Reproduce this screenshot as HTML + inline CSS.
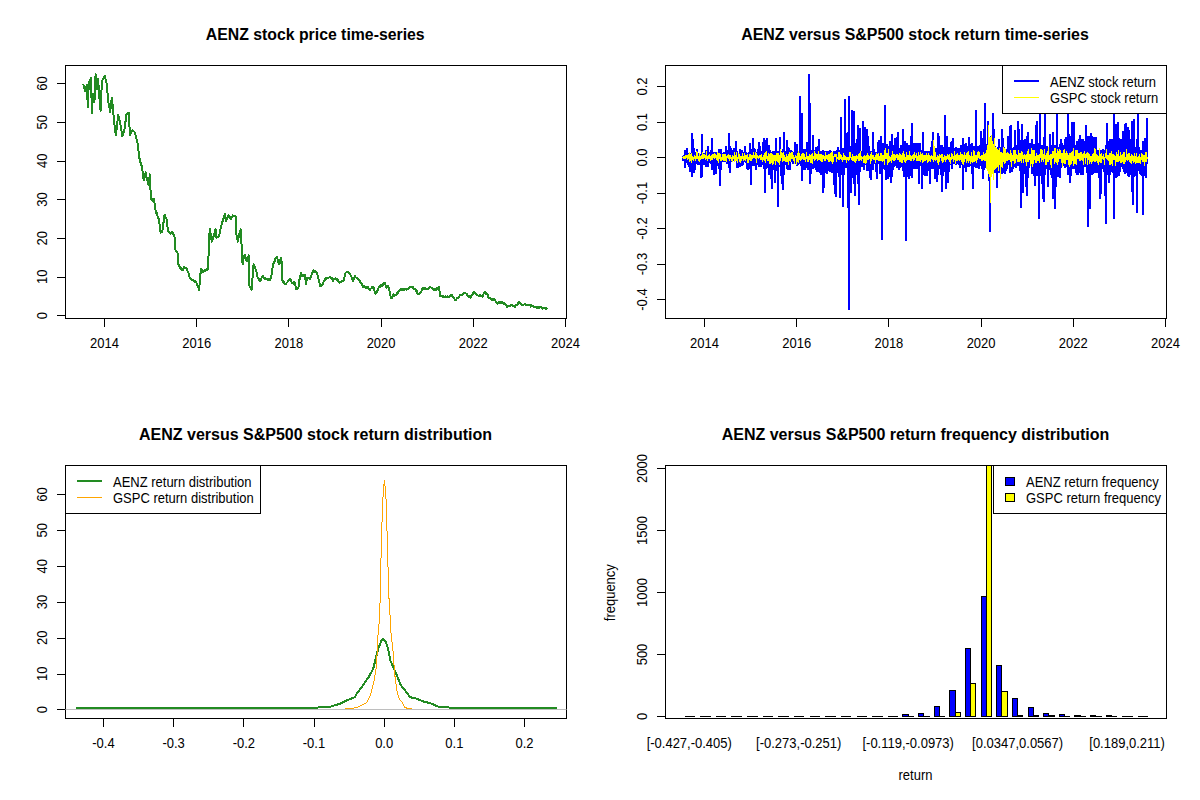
<!DOCTYPE html>
<html><head><meta charset="utf-8"><style>
html,body{margin:0;padding:0;background:#fff;}
svg{display:block;}
svg text{font-family:"Liberation Sans",sans-serif;}
</style></head><body>
<svg width="1200" height="800" viewBox="0 0 1200 800">
<rect x="0" y="0" width="1200" height="800" fill="#fff"/>
<rect x="65.5" y="65.5" width="501.0" height="253.0" fill="none" stroke="#000" stroke-width="1"/>
<text x="315.2" y="40" font-size="16" text-anchor="middle" font-weight="bold" fill="#000" textLength="218.9" lengthAdjust="spacingAndGlyphs">AENZ stock price time-series</text>
<line x1="104.5" y1="318.5" x2="565.5" y2="318.5" stroke="#000" stroke-width="1"/>
<line x1="104.5" y1="318.5" x2="104.5" y2="327" stroke="#000" stroke-width="1"/>
<text x="104.5" y="348" font-size="13" text-anchor="middle" font-weight="normal" fill="#000" transform="matrix(1 0 0 1.08 0 -27.840)">2014</text>
<line x1="196.5" y1="318.5" x2="196.5" y2="327" stroke="#000" stroke-width="1"/>
<text x="196.7" y="348" font-size="13" text-anchor="middle" font-weight="normal" fill="#000" transform="matrix(1 0 0 1.08 0 -27.840)">2016</text>
<line x1="288.5" y1="318.5" x2="288.5" y2="327" stroke="#000" stroke-width="1"/>
<text x="288.9" y="348" font-size="13" text-anchor="middle" font-weight="normal" fill="#000" transform="matrix(1 0 0 1.08 0 -27.840)">2018</text>
<line x1="381.5" y1="318.5" x2="381.5" y2="327" stroke="#000" stroke-width="1"/>
<text x="381.1" y="348" font-size="13" text-anchor="middle" font-weight="normal" fill="#000" transform="matrix(1 0 0 1.08 0 -27.840)">2020</text>
<line x1="473.5" y1="318.5" x2="473.5" y2="327" stroke="#000" stroke-width="1"/>
<text x="473.3" y="348" font-size="13" text-anchor="middle" font-weight="normal" fill="#000" transform="matrix(1 0 0 1.08 0 -27.840)">2022</text>
<line x1="565.5" y1="318.5" x2="565.5" y2="327" stroke="#000" stroke-width="1"/>
<text x="565.5" y="348" font-size="13" text-anchor="middle" font-weight="normal" fill="#000" transform="matrix(1 0 0 1.08 0 -27.840)">2024</text>
<line x1="65.5" y1="315.5" x2="65.5" y2="83.5" stroke="#000" stroke-width="1"/>
<line x1="57" y1="315.5" x2="65.5" y2="315.5" stroke="#000" stroke-width="1"/>
<text x="47" y="315.5" font-size="13" text-anchor="middle" font-weight="normal" fill="#000" transform="rotate(-90 47 315.5) matrix(1 0 0 1.08 0 -25.240)">0</text>
<line x1="57" y1="277.5" x2="65.5" y2="277.5" stroke="#000" stroke-width="1"/>
<text x="47" y="276.8333333333333" font-size="13" text-anchor="middle" font-weight="normal" fill="#000" transform="rotate(-90 47 276.8333333333333) matrix(1 0 0 1.08 0 -22.147)">10</text>
<line x1="57" y1="238.5" x2="65.5" y2="238.5" stroke="#000" stroke-width="1"/>
<text x="47" y="238.16666666666669" font-size="13" text-anchor="middle" font-weight="normal" fill="#000" transform="rotate(-90 47 238.16666666666669) matrix(1 0 0 1.08 0 -19.053)">20</text>
<line x1="57" y1="199.5" x2="65.5" y2="199.5" stroke="#000" stroke-width="1"/>
<text x="47" y="199.5" font-size="13" text-anchor="middle" font-weight="normal" fill="#000" transform="rotate(-90 47 199.5) matrix(1 0 0 1.08 0 -15.960)">30</text>
<line x1="57" y1="161.5" x2="65.5" y2="161.5" stroke="#000" stroke-width="1"/>
<text x="47" y="160.83333333333334" font-size="13" text-anchor="middle" font-weight="normal" fill="#000" transform="rotate(-90 47 160.83333333333334) matrix(1 0 0 1.08 0 -12.867)">40</text>
<line x1="57" y1="122.5" x2="65.5" y2="122.5" stroke="#000" stroke-width="1"/>
<text x="47" y="122.16666666666666" font-size="13" text-anchor="middle" font-weight="normal" fill="#000" transform="rotate(-90 47 122.16666666666666) matrix(1 0 0 1.08 0 -9.773)">50</text>
<line x1="57" y1="83.5" x2="65.5" y2="83.5" stroke="#000" stroke-width="1"/>
<text x="47" y="83.5" font-size="13" text-anchor="middle" font-weight="normal" fill="#000" transform="rotate(-90 47 83.5) matrix(1 0 0 1.08 0 -6.680)">60</text>
<polyline fill="none" stroke="#228B22" stroke-width="2" stroke-linejoin="round" shape-rendering="crispEdges" points="82.5,84.4 83.2,84.5 84.0,85.6 84.8,91.2 85.5,89.3 86.2,86.8 86.9,85.0 87.8,106.9 88.8,83.1 89.5,81.7 90.2,80.0 91.0,78.1 91.9,113.1 92.5,102.6 93.1,93.8 93.8,97.2 94.4,102.5 95.0,89.1 95.6,74.4 96.2,81.1 96.9,88.8 97.5,83.2 98.1,78.8 98.8,89.1 99.4,97.5 100.0,104.3 100.6,111.2 101.2,96.9 101.9,81.2 102.5,80.1 103.1,79.3 103.8,77.2 104.4,77.0 105.0,75.6 105.6,79.5 106.2,81.9 106.9,85.0 107.5,93.0 108.1,100.0 108.8,104.5 109.4,107.5 110.0,112.5 110.6,108.0 111.2,102.7 111.9,97.5 112.5,104.0 113.1,111.2 113.9,118.4 114.8,127.5 115.4,132.0 116.0,135.0 116.7,128.3 117.4,122.1 118.1,115.0 118.8,117.8 119.4,119.6 120.0,121.2 120.8,127.1 121.5,131.0 122.2,136.2 123.0,134.8 123.7,132.0 124.4,130.0 125.0,125.9 125.6,120.8 126.2,115.0 126.9,113.6 127.5,113.0 128.1,112.6 128.8,112.5 129.4,124.7 130.0,135.0 130.6,133.6 131.2,132.8 131.9,130.9 132.5,130.0 133.1,130.8 133.8,131.3 134.4,132.0 135.0,133.1 135.6,135.6 136.2,138.0 136.9,141.0 137.5,142.5 138.1,147.9 138.8,153.4 139.4,158.2 140.0,162.5 140.0,158.4 140.6,162.2 141.2,164.4 141.9,166.9 142.5,170.6 143.1,176.3 143.8,180.0 144.4,178.4 145.0,175.8 145.6,172.5 146.3,175.7 147.0,179.0 147.7,181.1 148.4,184.7 149.1,180.2 149.8,174.4 150.9,198.8 151.5,199.5 152.1,199.6 152.8,200.6 153.4,198.8 154.1,198.8 155.0,208.1 155.6,210.7 156.2,212.9 156.9,212.9 157.5,216.2 158.1,217.3 158.8,219.4 159.4,223.1 160.0,227.7 160.6,232.5 161.2,232.4 161.9,232.0 162.5,230.6 163.1,224.7 163.8,220.9 164.4,215.6 165.0,215.3 165.6,217.3 166.2,217.5 166.9,221.5 167.5,227.0 168.1,230.6 168.8,232.2 169.4,231.9 170.0,232.5 170.7,233.5 171.4,232.1 172.1,231.7 172.8,232.5 173.4,234.6 174.1,235.3 174.7,238.1 175.6,251.2 176.2,251.3 176.9,252.3 177.5,253.1 178.4,264.4 179.1,265.8 179.7,266.2 180.3,268.1 180.9,267.7 181.5,269.8 182.1,269.2 182.8,270.0 183.4,269.5 184.1,267.2 184.8,268.4 185.5,267.9 186.2,268.5 186.9,269.1 187.5,270.7 188.1,272.5 188.8,273.8 189.7,277.5 190.4,278.2 191.0,278.7 191.7,279.3 192.4,280.5 193.0,280.2 193.7,280.6 194.4,281.2 195.0,282.0 195.6,281.4 196.2,282.2 197.0,283.7 197.7,286.9 198.4,287.9 199.1,289.7 199.7,282.7 200.4,274.5 201.1,268.4 201.9,270.3 202.8,272.5 203.4,272.0 204.1,271.1 204.8,269.8 205.5,270.7 206.2,270.4 206.9,268.9 207.6,269.7 208.2,269.1 208.9,240.9 209.9,228.5 210.8,235.0 211.7,241.6 212.4,239.9 213.1,237.1 213.8,235.8 214.4,233.8 215.1,230.3 215.8,229.2 216.5,238.1 217.2,236.6 217.9,237.1 218.6,237.0 219.2,235.4 219.9,231.7 220.6,228.9 221.3,225.8 222.0,223.6 222.7,220.8 223.4,218.9 224.1,216.2 224.8,214.1 225.4,217.5 226.1,221.6 226.8,219.3 227.5,217.7 228.2,215.4 228.9,215.9 229.6,216.9 230.2,218.6 230.9,218.9 231.6,216.8 232.3,216.7 233.0,215.4 233.7,216.3 234.4,215.7 235.1,215.9 235.8,216.8 236.4,234.0 237.1,238.4 237.8,241.6 238.5,237.9 239.2,234.7 239.9,232.2 240.6,229.2 241.2,238.1 241.9,251.6 242.6,264.2 243.3,260.2 244.0,257.5 244.7,254.6 245.4,256.6 246.1,259.9 246.8,261.5 247.4,259.3 248.1,258.1 248.8,255.3 249.5,286.2 250.2,286.7 250.9,288.2 251.6,289.7 252.2,281.5 252.9,273.5 253.6,264.2 254.3,266.0 255.0,267.4 255.7,269.8 256.4,271.7 257.1,275.3 257.8,278.0 258.4,278.1 259.1,280.0 259.8,280.7 260.5,280.8 261.2,278.5 261.9,277.1 262.6,275.9 263.2,277.2 263.9,277.6 264.6,278.6 265.3,278.4 266.0,279.4 266.7,278.7 267.4,279.2 268.1,280.3 268.8,279.4 269.4,279.6 270.1,280.1 270.8,277.5 271.5,275.2 272.2,269.9 272.9,264.9 273.6,263.2 274.2,262.8 274.9,259.7 275.6,257.9 276.3,257.4 277.0,257.0 277.7,260.2 278.3,262.4 279.0,264.0 279.7,263.0 280.3,259.9 281.0,258.0 282.0,264.0 282.0,279.0 282.6,280.9 283.2,281.9 283.8,281.4 284.4,283.5 285.0,284.0 285.6,284.2 286.2,283.3 286.9,282.5 287.5,282.0 288.1,280.8 288.8,280.2 289.4,279.2 290.0,279.0 290.7,279.5 291.3,281.8 292.0,283.0 292.6,282.6 293.2,283.6 293.8,282.1 294.4,283.8 295.0,283.0 296.0,289.0 296.6,288.9 297.2,288.8 297.9,288.3 298.5,287.0 299.0,281.0 299.7,279.1 300.3,275.8 301.0,273.0 302.0,276.0 302.6,274.8 303.2,276.1 303.8,274.7 304.4,274.8 305.0,275.0 306.0,284.0 307.0,278.0 307.7,278.3 308.4,278.0 309.1,277.8 309.8,278.9 310.5,278.0 311.1,276.6 311.7,274.5 312.3,272.7 312.9,272.3 313.5,270.0 314.1,270.5 314.8,271.6 315.4,271.2 316.0,272.0 316.7,272.7 317.3,274.7 318.0,276.0 318.7,280.0 319.3,282.0 320.0,286.0 320.6,286.2 321.2,286.0 321.8,285.4 322.4,285.0 323.0,284.0 323.7,281.3 324.3,280.9 325.0,279.0 325.6,279.5 326.2,277.7 326.8,277.9 327.4,277.7 328.0,278.0 328.6,277.8 329.2,277.3 329.9,277.2 330.5,277.0 331.1,278.6 331.8,278.0 332.4,279.1 333.0,281.0 333.7,279.6 334.3,278.9 335.0,279.0 335.7,278.1 336.3,279.9 337.0,279.0 337.6,280.7 338.2,280.2 338.9,282.0 339.5,283.0 340.1,282.2 340.8,281.8 341.4,281.4 342.1,281.6 342.7,281.0 343.4,280.2 344.0,280.0 344.8,275.9 345.5,273.0 346.1,272.4 346.8,271.7 347.4,272.4 348.0,272.0 348.6,273.2 349.2,273.3 349.9,273.4 350.5,275.0 351.1,275.9 351.8,277.7 352.4,279.7 353.0,281.0 353.7,279.9 354.3,277.4 355.0,276.0 355.6,277.2 356.2,277.5 356.9,277.7 357.5,278.2 358.1,279.1 358.8,280.2 359.4,280.2 360.0,281.0 360.6,282.6 361.2,283.3 361.8,284.1 362.4,285.9 363.0,287.0 363.6,287.4 364.2,286.1 364.9,286.8 365.5,286.9 366.1,287.8 366.8,287.9 367.4,286.7 368.0,287.0 368.8,289.3 369.5,290.0 370.2,290.1 370.8,288.5 371.5,288.4 372.2,287.2 372.8,288.1 373.5,287.0 374.2,289.7 374.8,292.4 375.5,294.0 376.2,293.2 376.9,291.5 377.6,290.3 378.3,288.5 379.0,287.0 379.6,286.0 380.2,286.8 380.8,285.4 381.4,285.5 382.0,286.0 382.6,285.9 383.2,283.9 383.8,283.4 384.4,282.8 385.0,283.0 386.0,287.0 386.6,287.8 387.2,286.4 387.9,286.0 388.5,287.0 389.1,290.4 389.8,291.7 390.4,295.9 391.0,298.0 392.1,298.3 392.7,296.6 393.3,294.2 394.0,295.0 394.6,295.5 395.2,294.9 395.8,295.0 396.5,294.7 397.2,292.3 397.9,292.8 398.6,291.4 399.3,290.9 400.0,289.6 400.6,288.8 401.2,290.1 401.8,290.5 402.4,288.7 403.0,289.2 403.6,289.7 404.2,290.2 404.8,289.1 405.5,288.9 406.1,289.1 406.7,289.6 407.4,289.4 408.1,289.3 408.8,288.1 409.4,287.7 410.1,287.3 410.8,287.1 411.5,287.1 412.1,287.5 412.8,287.1 413.5,288.3 414.1,289.5 414.8,288.7 415.4,289.2 416.0,290.9 416.7,291.0 417.3,293.3 417.9,294.2 418.6,294.3 419.4,293.7 420.1,293.0 420.8,292.5 421.7,290.2 422.5,287.9 423.2,288.3 423.9,289.0 424.6,287.6 425.3,287.7 426.0,289.1 426.7,288.8 427.4,289.4 428.1,288.4 428.8,288.0 429.4,288.4 430.1,287.1 430.8,287.5 431.5,287.5 432.2,287.9 432.8,289.2 433.5,289.1 434.2,290.0 434.8,289.1 435.4,289.7 436.0,289.8 436.7,288.1 437.3,288.6 437.9,287.6 438.5,288.2 439.2,287.1 440.0,295.8 440.7,296.3 441.3,295.9 442.0,296.0 442.7,295.9 443.3,297.1 444.0,297.0 444.6,296.8 445.2,296.4 445.8,296.8 446.5,296.7 447.1,297.6 447.7,296.4 448.3,297.1 449.0,297.6 449.7,296.0 450.3,295.8 451.0,295.0 451.7,294.6 452.3,296.2 452.9,297.0 453.5,297.4 454.2,298.2 454.8,299.5 455.4,300.0 456.1,300.0 456.9,298.3 457.6,298.3 458.3,297.1 459.0,297.5 459.6,296.0 460.3,295.0 460.9,294.5 461.6,295.0 462.2,294.4 462.9,294.4 463.5,293.7 464.2,292.5 464.8,292.5 465.5,293.0 466.1,293.7 466.8,294.1 467.4,295.7 468.1,296.6 468.7,297.2 469.4,296.5 470.0,297.5 470.7,297.5 471.3,295.7 472.0,295.2 472.6,295.1 473.3,293.1 473.9,292.4 474.6,292.5 475.3,293.9 476.0,293.5 476.8,294.4 477.5,295.4 478.2,295.7 478.9,296.0 479.6,294.8 480.3,295.6 481.0,296.0 481.7,296.2 482.5,296.7 483.2,295.0 483.9,292.8 484.6,291.7 485.3,292.5 486.0,293.8 486.8,293.3 487.5,294.2 488.3,297.5 489.0,298.0 489.6,297.6 490.2,298.3 490.8,299.2 491.5,299.6 492.2,298.5 492.9,300.1 493.6,300.3 494.3,298.7 495.0,299.6 495.7,301.7 496.4,301.8 497.1,303.3 497.7,303.7 498.3,303.4 499.0,302.3 499.6,302.9 500.2,302.6 500.8,302.1 501.5,302.9 502.2,301.9 502.8,303.1 503.5,303.7 504.2,302.9 504.9,304.2 505.6,304.9 506.4,305.0 507.1,306.7 507.7,306.4 508.4,305.9 509.0,306.4 509.7,306.1 510.4,305.6 511.0,304.6 511.7,305.0 512.3,305.7 512.9,306.1 513.5,305.6 514.2,306.7 514.8,307.1 515.4,306.4 516.0,305.0 516.7,305.4 517.4,305.2 518.1,302.5 518.8,302.1 519.5,302.4 520.2,303.8 520.9,304.2 521.7,304.6 522.3,304.7 522.9,305.0 523.5,304.6 524.1,304.4 524.7,304.1 525.3,303.9 525.9,305.3 526.5,305.4 527.1,305.0 527.7,305.4 528.3,305.0 529.0,304.9 529.6,304.9 530.2,305.4 530.8,306.6 531.5,305.1 532.1,306.3 532.7,306.0 533.3,306.7 534.0,307.3 534.6,306.6 535.2,306.6 535.8,306.9 536.5,307.3 537.1,307.8 537.7,307.1 538.3,307.5 539.0,308.3 539.6,306.9 540.3,307.3 540.9,307.1 541.6,307.2 542.2,308.6 542.9,308.6 543.5,307.6 544.2,308.3 545.0,307.9 545.8,308.8 546.7,308.0 547.5,307.5"/>
<rect x="665.5" y="65.5" width="501.0" height="253.0" fill="none" stroke="#000" stroke-width="1"/>
<text x="915.0" y="40" font-size="16" text-anchor="middle" font-weight="bold" fill="#000" textLength="347.5" lengthAdjust="spacingAndGlyphs">AENZ versus S&amp;P500 stock return time-series</text>
<line x1="704.5" y1="318.5" x2="1165.5" y2="318.5" stroke="#000" stroke-width="1"/>
<line x1="704.5" y1="318.5" x2="704.5" y2="327" stroke="#000" stroke-width="1"/>
<text x="704.5" y="348" font-size="13" text-anchor="middle" font-weight="normal" fill="#000" transform="matrix(1 0 0 1.08 0 -27.840)">2014</text>
<line x1="796.5" y1="318.5" x2="796.5" y2="327" stroke="#000" stroke-width="1"/>
<text x="796.7" y="348" font-size="13" text-anchor="middle" font-weight="normal" fill="#000" transform="matrix(1 0 0 1.08 0 -27.840)">2016</text>
<line x1="888.5" y1="318.5" x2="888.5" y2="327" stroke="#000" stroke-width="1"/>
<text x="888.9" y="348" font-size="13" text-anchor="middle" font-weight="normal" fill="#000" transform="matrix(1 0 0 1.08 0 -27.840)">2018</text>
<line x1="981.5" y1="318.5" x2="981.5" y2="327" stroke="#000" stroke-width="1"/>
<text x="981.1" y="348" font-size="13" text-anchor="middle" font-weight="normal" fill="#000" transform="matrix(1 0 0 1.08 0 -27.840)">2020</text>
<line x1="1073.5" y1="318.5" x2="1073.5" y2="327" stroke="#000" stroke-width="1"/>
<text x="1073.3" y="348" font-size="13" text-anchor="middle" font-weight="normal" fill="#000" transform="matrix(1 0 0 1.08 0 -27.840)">2022</text>
<line x1="1165.5" y1="318.5" x2="1165.5" y2="327" stroke="#000" stroke-width="1"/>
<text x="1165.5" y="348" font-size="13" text-anchor="middle" font-weight="normal" fill="#000" transform="matrix(1 0 0 1.08 0 -27.840)">2024</text>
<line x1="665.5" y1="299.5" x2="665.5" y2="86.5" stroke="#000" stroke-width="1"/>
<line x1="657" y1="299.5" x2="665.5" y2="299.5" stroke="#000" stroke-width="1"/>
<text x="647" y="299.5" font-size="13" text-anchor="middle" font-weight="normal" fill="#000" transform="rotate(-90 647 299.5) matrix(1 0 0 1.08 0 -23.960)">-0.4</text>
<line x1="657" y1="264.5" x2="665.5" y2="264.5" stroke="#000" stroke-width="1"/>
<text x="647" y="264.0" font-size="13" text-anchor="middle" font-weight="normal" fill="#000" transform="rotate(-90 647 264.0) matrix(1 0 0 1.08 0 -21.120)">-0.3</text>
<line x1="657" y1="228.5" x2="665.5" y2="228.5" stroke="#000" stroke-width="1"/>
<text x="647" y="228.5" font-size="13" text-anchor="middle" font-weight="normal" fill="#000" transform="rotate(-90 647 228.5) matrix(1 0 0 1.08 0 -18.280)">-0.2</text>
<line x1="657" y1="193.5" x2="665.5" y2="193.5" stroke="#000" stroke-width="1"/>
<text x="647" y="193.0" font-size="13" text-anchor="middle" font-weight="normal" fill="#000" transform="rotate(-90 647 193.0) matrix(1 0 0 1.08 0 -15.440)">-0.1</text>
<line x1="657" y1="157.5" x2="665.5" y2="157.5" stroke="#000" stroke-width="1"/>
<text x="647" y="157.5" font-size="13" text-anchor="middle" font-weight="normal" fill="#000" transform="rotate(-90 647 157.5) matrix(1 0 0 1.08 0 -12.600)">0.0</text>
<line x1="657" y1="122.5" x2="665.5" y2="122.5" stroke="#000" stroke-width="1"/>
<text x="647" y="122.0" font-size="13" text-anchor="middle" font-weight="normal" fill="#000" transform="rotate(-90 647 122.0) matrix(1 0 0 1.08 0 -9.760)">0.1</text>
<line x1="657" y1="86.5" x2="665.5" y2="86.5" stroke="#000" stroke-width="1"/>
<text x="647" y="86.5" font-size="13" text-anchor="middle" font-weight="normal" fill="#000" transform="rotate(-90 647 86.5) matrix(1 0 0 1.08 0 -6.920)">0.2</text>
<polyline fill="none" stroke="#0000FF" stroke-width="2" stroke-linejoin="miter" shape-rendering="crispEdges" points="682.50,156.1 682.68,159.3 682.87,155.9 683.05,160.7 683.24,158.1 683.42,156.0 683.61,159.6 683.79,155.0 683.98,160.5 684.16,155.5 684.35,154.9 684.53,160.4 684.72,154.5 684.90,168.3 685.08,159.5 685.27,150.3 685.45,161.1 685.64,150.3 685.82,162.6 686.01,156.5 686.19,154.3 686.38,161.3 686.56,147.7 686.75,162.8 686.93,155.2 687.11,154.5 687.30,162.6 687.48,153.4 687.67,164.6 687.85,158.6 688.04,153.4 688.22,164.7 688.41,154.7 688.59,164.0 688.78,157.3 688.96,153.4 689.15,167.1 689.33,154.0 689.51,166.1 689.70,155.0 689.88,154.9 690.07,166.9 690.25,153.1 690.44,171.5 690.62,159.8 690.81,154.4 690.99,159.6 691.18,153.7 691.36,160.9 691.55,156.5 691.73,154.6 691.91,176.5 692.10,133.4 692.28,160.9 692.47,153.7 692.65,154.5 692.84,162.0 693.02,153.0 693.21,161.7 693.39,139.4 693.58,154.0 693.76,172.8 693.95,153.1 694.13,162.1 694.31,157.5 694.50,154.2 694.68,162.1 694.87,154.1 695.05,169.8 695.24,158.2 695.42,153.0 695.61,162.5 695.79,153.4 695.98,163.3 696.16,159.0 696.34,152.4 696.53,161.9 696.71,149.3 696.90,164.2 697.08,155.7 697.27,153.2 697.45,163.5 697.64,152.6 697.82,164.7 698.01,158.5 698.19,153.3 698.38,162.6 698.56,153.5 698.74,163.5 698.93,156.1 699.11,152.9 699.30,162.7 699.48,154.4 699.67,163.3 699.85,155.8 700.04,153.9 700.22,165.4 700.41,153.9 700.59,164.2 700.78,157.3 700.96,153.6 701.14,167.0 701.33,154.5 701.51,178.0 701.70,159.6 701.88,134.1 702.07,168.9 702.25,149.4 702.44,165.5 702.62,153.3 702.81,154.2 702.99,164.6 703.17,152.9 703.36,164.4 703.54,158.1 703.73,153.6 703.91,161.3 704.10,153.7 704.28,165.1 704.47,160.2 704.65,153.2 704.84,163.4 705.02,152.9 705.21,161.3 705.39,160.9 705.57,152.5 705.76,167.3 705.94,150.0 706.13,161.6 706.31,163.3 706.50,153.9 706.68,161.8 706.87,152.8 707.05,164.7 707.24,158.9 707.42,151.4 707.61,163.0 707.79,153.3 707.97,167.2 708.16,156.8 708.34,146.0 708.53,163.1 708.71,152.3 708.90,161.3 709.08,154.8 709.27,152.5 709.45,161.8 709.64,153.4 709.82,160.7 710.00,159.7 710.19,152.7 710.37,161.3 710.56,153.9 710.74,163.4 710.93,155.6 711.11,150.0 711.30,164.3 711.48,154.0 711.67,138.4 711.85,159.3 712.04,154.3 712.22,169.8 712.40,154.0 712.59,164.8 712.77,161.1 712.96,153.6 713.14,166.8 713.33,154.1 713.51,164.0 713.70,174.6 713.88,152.3 714.07,166.7 714.25,153.8 714.44,164.7 714.62,159.0 714.80,152.2 714.99,163.6 715.17,153.3 715.36,164.8 715.54,155.9 715.73,152.2 715.91,173.9 716.10,152.1 716.28,163.3 716.47,156.9 716.65,153.6 716.84,166.0 717.02,152.3 717.20,165.6 717.39,158.1 717.57,153.3 717.76,166.1 717.94,152.7 718.13,165.5 718.31,155.2 718.50,153.9 718.68,167.8 718.87,149.2 719.05,169.3 719.23,161.6 719.42,153.9 719.60,166.4 719.79,149.7 719.97,186.3 720.16,156.9 720.34,153.5 720.53,169.5 720.71,148.6 720.90,166.7 721.08,157.0 721.27,153.5 721.45,168.6 721.63,153.2 721.82,161.7 722.00,160.6 722.19,152.8 722.37,160.3 722.56,154.0 722.74,160.6 722.93,155.0 723.11,154.0 723.30,160.1 723.48,153.9 723.67,160.6 723.85,159.9 724.03,151.7 724.22,161.9 724.40,154.1 724.59,161.0 724.77,157.2 724.96,153.8 725.14,161.0 725.33,152.2 725.51,160.1 725.70,159.5 725.88,153.6 726.06,161.8 726.25,146.0 726.43,161.5 726.62,160.5 726.80,154.3 726.99,162.7 727.17,152.4 727.36,163.5 727.54,157.1 727.73,150.5 727.91,161.6 728.10,151.0 728.28,161.7 728.46,157.6 728.65,133.4 728.83,160.8 729.02,151.7 729.20,160.0 729.39,157.1 729.57,173.1 729.76,161.6 729.94,150.1 730.13,160.5 730.31,155.0 730.50,146.0 730.68,161.5 730.86,149.6 731.05,161.4 731.23,156.4 731.42,151.2 731.60,160.0 731.79,151.0 731.97,161.1 732.16,156.6 732.34,151.8 732.53,160.4 732.71,152.2 732.89,160.6 733.08,157.0 733.26,149.7 733.45,160.3 733.63,148.7 733.82,160.2 734.00,154.9 734.19,148.5 734.37,161.0 734.56,149.9 734.74,161.0 734.93,155.2 735.11,150.4 735.29,160.0 735.48,149.6 735.66,161.1 735.85,160.4 736.03,150.9 736.22,161.0 736.40,141.2 736.59,164.9 736.77,162.5 736.96,151.8 737.14,167.5 737.33,151.1 737.51,167.5 737.69,160.9 737.88,153.1 738.06,167.5 738.25,154.4 738.43,166.0 738.62,155.2 738.80,153.8 738.99,163.3 739.17,153.4 739.36,166.7 739.54,161.7 739.73,153.7 739.91,163.9 740.09,148.8 740.28,166.7 740.46,157.3 740.65,153.0 740.83,162.6 741.02,153.1 741.20,164.1 741.39,152.7 741.57,154.1 741.76,166.1 741.94,154.0 742.12,162.1 742.31,150.2 742.49,154.4 742.68,162.8 742.86,154.4 743.05,165.4 743.23,154.0 743.42,154.1 743.60,161.3 743.79,152.5 743.97,160.9 744.16,158.9 744.34,154.0 744.52,162.2 744.71,153.8 744.89,162.4 745.08,146.0 745.26,153.3 745.45,161.7 745.63,152.6 745.82,162.8 746.00,160.7 746.19,151.7 746.37,162.5 746.56,154.6 746.74,169.0 746.92,156.6 747.11,154.1 747.29,166.7 747.48,154.9 747.66,167.6 747.85,154.8 748.03,155.0 748.22,169.6 748.40,154.4 748.59,165.6 748.77,156.3 748.95,152.7 749.14,165.7 749.32,151.9 749.51,169.1 749.69,146.9 749.88,142.9 750.06,166.4 750.25,150.7 750.43,169.4 750.62,157.9 750.80,153.0 750.99,185.3 751.17,151.4 751.35,165.4 751.54,149.8 751.72,149.4 751.91,166.1 752.09,150.5 752.28,162.9 752.46,159.0 752.65,151.6 752.83,163.5 753.02,152.3 753.20,163.2 753.39,138.4 753.57,152.4 753.75,165.3 753.94,152.1 754.12,165.8 754.31,158.7 754.49,152.6 754.68,162.7 754.86,149.5 755.05,162.8 755.23,161.0 755.42,152.6 755.60,164.0 755.79,152.5 755.97,169.7 756.15,158.3 756.34,151.9 756.52,163.8 756.71,152.8 756.89,164.7 757.08,163.1 757.26,152.6 757.45,163.4 757.63,151.0 757.82,165.4 758.00,156.0 758.18,149.3 758.37,162.8 758.55,149.8 758.74,165.9 758.92,158.2 759.11,152.5 759.29,167.0 759.48,141.9 759.66,163.1 759.85,157.6 760.03,152.5 760.22,164.3 760.40,150.4 760.58,167.0 760.77,164.0 760.95,151.3 761.14,166.1 761.32,151.4 761.51,165.0 761.69,157.5 761.88,151.1 762.06,163.1 762.25,152.6 762.43,165.3 762.62,157.3 762.80,142.2 762.98,165.1 763.17,149.8 763.35,163.0 763.54,156.1 763.72,138.4 763.91,167.3 764.09,150.4 764.28,164.3 764.46,159.8 764.65,192.8 764.83,173.8 765.01,151.7 765.20,168.4 765.38,158.9 765.57,140.3 765.75,165.7 765.94,152.5 766.12,168.7 766.31,159.9 766.49,149.8 766.68,164.5 766.86,152.6 767.05,167.2 767.23,152.2 767.41,138.0 767.60,168.4 767.78,152.8 767.97,166.5 768.15,150.5 768.34,152.5 768.52,166.7 768.71,151.3 768.89,174.5 769.08,158.2 769.26,145.5 769.45,169.0 769.63,149.7 769.81,166.0 770.00,164.2 770.18,153.4 770.37,167.3 770.55,153.7 770.74,178.9 770.92,160.2 771.11,152.9 771.29,171.2 771.48,152.0 771.66,188.5 771.84,155.3 772.03,153.4 772.21,166.3 772.40,152.3 772.58,167.8 772.77,153.8 772.95,151.5 773.14,169.1 773.32,151.1 773.51,169.8 773.69,157.9 773.88,152.3 774.06,165.8 774.24,152.9 774.43,168.2 774.61,152.2 774.80,152.3 774.98,183.4 775.17,152.5 775.35,181.0 775.54,157.0 775.72,151.9 775.91,169.1 776.09,138.4 776.28,170.5 776.46,158.2 776.64,153.6 776.83,166.9 777.01,152.3 777.20,166.3 777.38,163.7 777.57,151.1 777.75,164.9 777.94,151.7 778.12,206.5 778.31,161.1 778.49,153.1 778.68,163.3 778.86,153.1 779.04,164.4 779.23,160.2 779.41,153.0 779.60,165.6 779.78,137.5 779.97,167.3 780.15,157.2 780.34,152.2 780.52,165.4 780.71,151.0 780.89,175.6 781.07,161.4 781.26,153.1 781.44,164.7 781.63,150.9 781.81,165.6 782.00,152.9 782.18,153.1 782.37,163.5 782.55,190.0 782.74,163.5 782.92,149.9 783.11,152.8 783.29,163.3 783.47,148.8 783.66,167.6 783.84,132.2 784.03,151.1 784.21,174.6 784.40,153.2 784.58,164.7 784.77,155.7 784.95,152.4 785.14,163.5 785.32,152.0 785.51,162.0 785.69,152.3 785.87,152.8 786.06,162.4 786.24,150.6 786.43,163.0 786.61,156.8 786.80,152.1 786.98,168.9 787.17,140.3 787.35,165.3 787.54,157.8 787.72,146.8 787.90,170.1 788.09,147.5 788.27,169.0 788.46,162.8 788.64,147.9 788.83,163.8 789.01,151.0 789.20,162.4 789.38,160.4 789.57,153.6 789.75,167.4 789.94,151.9 790.12,170.2 790.30,156.8 790.49,153.0 790.67,161.5 790.86,151.0 791.04,161.5 791.23,149.9 791.41,152.6 791.60,161.6 791.78,152.8 791.97,161.8 792.15,158.3 792.34,150.7 792.52,161.2 792.70,152.5 792.89,162.2 793.07,163.2 793.26,152.0 793.44,163.7 793.63,151.9 793.81,163.4 794.00,161.2 794.18,151.9 794.37,162.9 794.55,151.5 794.74,161.2 794.92,151.4 795.10,142.1 795.29,161.6 795.47,149.9 795.66,163.7 795.84,155.4 796.03,150.4 796.21,161.6 796.40,150.5 796.58,163.2 796.77,158.5 796.95,151.2 797.13,161.4 797.32,144.0 797.50,166.0 797.69,156.6 797.87,151.1 798.06,162.9 798.24,151.0 798.43,161.4 798.61,155.5 798.80,152.7 798.98,163.6 799.17,151.0 799.35,162.3 799.53,159.7 799.72,149.1 799.90,163.2 800.09,95.9 800.27,164.3 800.46,149.8 800.64,152.7 800.83,165.7 801.01,152.2 801.20,165.1 801.38,155.9 801.57,112.8 801.75,180.5 801.93,152.7 802.12,174.0 802.30,162.5 802.49,151.0 802.67,166.6 802.86,149.5 803.04,167.2 803.23,161.4 803.41,149.3 803.60,170.3 803.78,149.5 803.96,167.7 804.15,156.5 804.33,151.8 804.52,169.0 804.70,150.6 804.89,170.3 805.07,151.9 805.26,151.6 805.44,167.6 805.63,150.9 805.81,164.7 806.00,153.6 806.18,151.9 806.36,168.4 806.55,152.6 806.73,167.5 806.92,154.0 807.10,141.6 807.29,166.0 807.47,149.9 807.66,170.0 807.84,158.2 808.03,151.3 808.21,170.2 808.40,151.1 808.58,169.6 808.76,159.1 808.95,74.0 809.13,169.4 809.32,149.4 809.50,169.3 809.69,155.1 809.87,149.8 810.06,165.6 810.24,103.4 810.43,184.0 810.61,161.8 810.79,150.6 810.98,170.1 811.16,152.7 811.35,165.2 811.53,151.0 811.72,149.6 811.90,165.7 812.09,150.1 812.27,168.2 812.46,157.7 812.64,149.7 812.83,169.2 813.01,135.3 813.19,168.3 813.38,159.0 813.56,151.5 813.75,164.7 813.93,150.0 814.12,168.4 814.30,159.3 814.49,151.8 814.67,165.6 814.86,150.4 815.04,166.4 815.23,162.4 815.41,149.6 815.59,170.1 815.78,147.5 815.96,166.4 816.15,162.5 816.33,151.8 816.52,167.6 816.70,148.6 816.89,165.6 817.07,158.2 817.26,150.9 817.44,171.5 817.63,146.4 817.81,172.2 817.99,160.1 818.18,146.8 818.36,168.0 818.55,149.9 818.73,139.0 818.92,155.7 819.10,148.8 819.29,169.0 819.47,148.6 819.66,168.5 819.84,155.2 820.02,152.0 820.21,172.7 820.39,152.8 820.58,172.1 820.76,156.6 820.95,152.4 821.13,167.8 821.32,150.8 821.50,175.0 821.69,159.1 821.87,153.4 822.06,171.4 822.24,152.6 822.42,172.2 822.61,161.8 822.79,153.7 822.98,178.8 823.16,150.3 823.35,192.9 823.53,154.6 823.72,151.4 823.90,188.3 824.09,152.7 824.27,170.7 824.46,161.4 824.64,152.1 824.82,168.7 825.01,151.1 825.19,169.5 825.38,161.0 825.56,151.4 825.75,169.0 825.93,152.0 826.12,173.4 826.30,156.5 826.49,152.3 826.67,174.0 826.85,152.2 827.04,172.2 827.22,159.1 827.41,151.4 827.59,169.8 827.78,152.8 827.96,170.6 828.15,167.4 828.33,152.4 828.52,166.6 828.70,151.1 828.89,171.1 829.07,167.9 829.25,152.9 829.44,166.9 829.62,150.9 829.81,169.3 829.99,149.8 830.18,151.3 830.36,171.9 830.55,152.8 830.73,170.5 830.92,155.3 831.10,151.1 831.29,171.7 831.47,152.8 831.65,170.2 831.84,157.7 832.02,153.1 832.21,172.8 832.39,152.7 832.58,169.3 832.76,161.0 832.95,152.0 833.13,170.3 833.32,152.6 833.50,168.0 833.68,160.2 833.87,151.5 834.05,174.1 834.24,152.9 834.42,184.7 834.61,158.7 834.79,152.8 834.98,174.8 835.16,150.9 835.35,173.8 835.53,195.3 835.72,152.8 835.90,197.4 836.08,150.9 836.27,173.4 836.45,161.8 836.64,152.9 836.82,170.2 837.01,150.9 837.19,172.8 837.38,150.3 837.56,150.7 837.75,173.1 837.93,147.0 838.12,171.7 838.30,153.2 838.48,148.3 838.67,171.1 838.85,150.5 839.04,175.7 839.22,165.8 839.41,149.7 839.59,197.9 839.78,151.2 839.96,173.1 840.15,156.4 840.33,149.6 840.52,173.8 840.70,149.3 840.88,116.6 841.07,156.8 841.25,150.7 841.44,174.9 841.62,149.8 841.81,173.8 841.99,159.7 842.18,150.5 842.36,168.9 842.55,149.0 842.73,169.8 842.91,154.9 843.10,206.6 843.28,171.9 843.47,148.1 843.65,175.3 843.84,162.3 844.02,149.8 844.21,173.6 844.39,149.0 844.58,166.9 844.76,157.5 844.95,98.8 845.13,163.1 845.31,145.1 845.50,163.9 845.68,153.8 845.87,144.5 846.05,165.2 846.24,145.3 846.42,167.7 846.61,163.8 846.79,132.6 846.98,167.7 847.16,145.4 847.35,167.2 847.53,155.6 847.71,132.4 847.90,171.1 848.08,148.1 848.27,175.9 848.45,157.6 848.64,309.6 848.82,173.0 849.01,148.0 849.19,95.9 849.38,163.5 849.56,148.6 849.74,185.1 849.93,146.7 850.11,168.8 850.30,155.4 850.48,148.6 850.67,193.0 850.85,149.1 851.04,174.4 851.22,156.3 851.41,146.1 851.59,177.5 851.78,147.9 851.96,170.8 852.14,110.0 852.33,146.0 852.51,173.4 852.70,139.2 852.88,171.2 853.07,157.6 853.25,152.1 853.44,176.1 853.62,151.8 853.81,184.2 853.99,149.7 854.18,152.0 854.36,111.0 854.54,149.1 854.73,173.0 854.91,158.7 855.10,152.7 855.28,196.2 855.47,144.3 855.65,170.7 855.84,163.0 856.02,152.4 856.21,175.2 856.39,151.1 856.58,173.9 856.76,157.3 856.94,138.6 857.13,167.7 857.31,151.3 857.50,172.6 857.68,154.4 857.87,150.2 858.05,125.0 858.24,152.5 858.42,184.2 858.61,159.0 858.79,204.7 858.97,172.2 859.16,149.3 859.34,176.5 859.53,156.1 859.71,150.8 859.90,168.6 860.08,127.8 860.27,171.8 860.45,161.5 860.64,153.0 860.82,164.1 861.01,153.1 861.19,166.0 861.37,154.1 861.56,151.2 861.74,163.8 861.93,150.7 862.11,166.5 862.30,153.9 862.48,152.2 862.67,166.8 862.85,143.0 863.04,164.9 863.22,156.6 863.41,120.6 863.59,168.5 863.77,147.0 863.96,169.7 864.14,165.8 864.33,142.7 864.51,165.6 864.70,148.5 864.88,165.1 865.07,161.8 865.25,127.5 865.44,163.9 865.62,145.5 865.80,164.6 865.99,154.1 866.17,147.2 866.36,163.4 866.54,148.3 866.73,170.8 866.91,157.8 867.10,149.7 867.28,166.5 867.47,128.8 867.65,166.2 867.84,159.0 868.02,143.7 868.20,166.7 868.39,147.8 868.57,167.5 868.76,165.8 868.94,148.8 869.13,170.5 869.31,145.9 869.50,164.9 869.68,154.7 869.87,152.5 870.05,178.2 870.24,154.0 870.42,170.1 870.60,151.3 870.79,152.6 870.97,179.9 871.16,154.0 871.34,165.1 871.53,152.7 871.71,153.3 871.90,170.1 872.08,153.3 872.27,169.5 872.45,155.5 872.63,151.9 872.82,131.6 873.00,150.6 873.19,169.7 873.37,158.1 873.56,152.2 873.74,163.4 873.93,148.9 874.11,163.4 874.30,157.4 874.48,150.5 874.67,162.3 874.85,152.1 875.03,162.7 875.22,161.7 875.40,152.2 875.59,171.5 875.77,153.4 875.96,161.9 876.14,157.1 876.33,152.3 876.51,163.9 876.70,152.7 876.88,164.3 877.07,179.4 877.25,152.1 877.43,161.8 877.62,143.0 877.80,162.1 877.99,156.9 878.17,142.0 878.36,162.5 878.54,141.3 878.73,163.5 878.91,151.5 879.10,139.7 879.28,162.9 879.47,145.6 879.65,173.5 879.83,161.8 880.02,145.4 880.20,162.4 880.39,145.6 880.57,161.5 880.76,154.2 880.94,136.2 881.13,162.2 881.31,148.9 881.50,163.8 881.68,240.4 881.86,148.8 882.05,168.7 882.23,143.1 882.42,165.6 882.60,163.5 882.79,147.3 882.97,165.6 883.16,145.7 883.34,168.7 883.53,157.4 883.71,145.6 883.90,168.2 884.08,143.3 884.26,168.4 884.45,160.8 884.63,145.4 884.82,166.7 885.00,105.0 885.19,169.5 885.37,155.4 885.56,145.5 885.74,180.0 885.93,143.7 886.11,172.4 886.30,163.1 886.48,149.1 886.66,169.0 886.85,144.0 887.03,167.3 887.22,164.2 887.40,147.8 887.59,166.2 887.77,149.5 887.96,169.3 888.14,156.8 888.33,149.2 888.51,179.1 888.69,145.8 888.88,164.8 889.06,155.6 889.25,147.4 889.43,166.7 889.62,144.1 889.80,165.3 889.99,153.1 890.17,140.9 890.36,165.5 890.54,146.0 890.73,170.1 890.91,183.0 891.09,145.5 891.28,169.1 891.46,148.7 891.65,167.0 891.83,134.4 892.02,146.0 892.20,176.5 892.39,149.4 892.57,170.1 892.76,163.6 892.94,146.9 893.13,167.8 893.31,144.7 893.49,169.5 893.68,152.3 893.86,149.1 894.05,163.6 894.23,144.8 894.42,166.5 894.60,157.5 894.79,146.4 894.97,165.7 895.16,138.2 895.34,164.4 895.53,157.8 895.71,143.4 895.89,165.3 896.08,144.4 896.26,164.3 896.45,157.7 896.63,144.5 896.82,164.4 897.00,148.7 897.19,167.8 897.37,159.6 897.56,131.6 897.74,166.6 897.92,144.8 898.11,165.6 898.29,157.1 898.48,147.4 898.66,166.7 898.85,147.7 899.03,170.3 899.22,158.2 899.40,149.3 899.59,168.0 899.77,149.6 899.96,165.2 900.14,156.7 900.32,148.9 900.51,167.5 900.69,144.9 900.88,167.1 901.06,158.7 901.25,149.2 901.43,164.9 901.62,145.0 901.80,165.6 901.99,164.6 902.17,146.7 902.36,164.7 902.54,143.8 902.72,171.4 902.91,128.8 903.09,148.5 903.28,166.0 903.46,146.9 903.65,169.6 903.83,146.4 904.02,144.0 904.20,177.3 904.39,147.9 904.57,166.0 904.75,156.8 904.94,148.2 905.12,163.6 905.31,141.4 905.49,164.4 905.68,158.9 905.86,241.3 906.05,162.7 906.23,147.6 906.42,164.3 906.60,154.2 906.79,143.5 906.97,176.5 907.15,147.4 907.34,168.9 907.52,156.4 907.71,144.7 907.89,164.8 908.08,144.9 908.26,166.1 908.45,152.3 908.63,145.4 908.82,165.0 909.00,146.3 909.19,179.2 909.37,161.6 909.55,145.7 909.74,176.3 909.92,147.3 910.11,163.4 910.29,153.3 910.48,146.5 910.66,164.0 910.85,151.4 911.03,165.8 911.22,136.2 911.40,147.4 911.58,164.7 911.77,122.6 911.95,177.6 912.14,158.5 912.32,143.6 912.51,164.9 912.69,150.7 912.88,164.9 913.06,155.9 913.25,150.1 913.43,166.7 913.62,143.1 913.80,169.4 913.98,157.1 914.17,146.3 914.35,167.7 914.54,142.7 914.72,169.1 914.91,154.4 915.09,144.5 915.28,164.5 915.46,147.8 915.65,169.3 915.83,148.9 916.02,142.8 916.20,166.9 916.38,144.2 916.57,165.8 916.75,151.0 916.94,144.9 917.12,167.9 917.31,142.8 917.49,165.5 917.68,148.5 917.86,143.7 918.05,168.9 918.23,148.9 918.42,169.0 918.60,160.4 918.78,184.0 918.97,164.8 919.15,142.7 919.34,165.6 919.52,158.9 919.71,142.7 919.89,165.8 920.08,152.5 920.26,164.6 920.45,161.2 920.63,150.1 920.81,164.4 921.00,153.2 921.18,164.5 921.37,152.2 921.55,153.8 921.74,173.3 921.92,152.0 922.11,188.9 922.29,160.7 922.48,153.7 922.66,174.9 922.85,152.0 923.03,175.3 923.21,152.9 923.40,131.6 923.58,172.7 923.77,152.0 923.95,167.4 924.14,157.8 924.32,152.0 924.51,172.3 924.69,151.5 924.88,171.2 925.06,158.0 925.25,152.9 925.43,175.6 925.61,153.0 925.80,168.2 925.98,157.1 926.17,152.7 926.35,172.4 926.54,151.4 926.72,175.5 926.91,160.4 927.09,153.8 927.28,174.8 927.46,152.4 927.64,169.6 927.83,158.1 928.01,153.7 928.20,169.8 928.38,151.5 928.57,169.4 928.75,157.6 928.94,153.5 929.12,171.0 929.31,151.5 929.49,169.2 929.68,158.9 929.86,152.0 930.04,184.0 930.23,153.0 930.41,182.0 930.60,157.7 930.78,150.2 930.97,165.9 931.15,147.3 931.34,169.0 931.52,154.6 931.71,150.5 931.89,164.6 932.08,140.7 932.26,164.8 932.44,157.7 932.63,132.0 932.81,168.7 933.00,138.6 933.18,164.4 933.37,157.5 933.55,147.2 933.74,164.8 933.92,148.3 934.11,168.4 934.29,161.9 934.47,150.4 934.66,169.1 934.84,148.0 935.03,178.7 935.21,154.9 935.40,148.0 935.58,173.7 935.77,151.4 935.95,167.6 936.14,158.4 936.32,150.6 936.51,167.6 936.69,149.6 936.87,175.3 937.06,154.6 937.24,147.7 937.43,181.8 937.61,133.5 937.80,169.3 937.98,154.1 938.17,150.5 938.35,175.4 938.54,147.2 938.72,167.8 938.91,163.4 939.09,138.9 939.27,167.8 939.46,136.2 939.64,169.1 939.83,162.1 940.01,151.2 940.20,167.9 940.38,147.7 940.57,174.2 940.75,161.6 940.94,149.8 941.12,167.5 941.31,149.1 941.49,175.3 941.67,157.0 941.86,149.3 942.04,192.0 942.23,145.2 942.41,175.2 942.60,154.7 942.78,147.4 942.97,175.6 943.15,148.1 943.34,175.9 943.52,150.9 943.70,148.7 943.89,168.4 944.07,151.0 944.26,172.4 944.44,153.7 944.63,152.3 944.81,168.6 945.00,115.2 945.18,167.7 945.37,160.7 945.55,153.1 945.74,174.4 945.92,152.3 946.10,189.2 946.29,164.5 946.47,153.1 946.66,162.6 946.84,147.3 947.03,164.2 947.21,154.5 947.40,136.4 947.58,164.9 947.77,183.0 947.95,161.8 948.14,159.1 948.32,151.2 948.50,164.4 948.69,147.3 948.87,171.6 949.06,161.4 949.24,150.8 949.43,164.0 949.61,149.4 949.80,164.5 949.98,159.3 950.17,147.2 950.35,162.2 950.53,147.4 950.72,163.8 950.90,154.8 951.09,149.4 951.27,164.9 951.46,141.7 951.64,163.4 951.83,156.7 952.01,150.5 952.20,168.7 952.38,147.2 952.57,138.1 952.75,157.4 952.93,147.0 953.12,162.9 953.30,150.1 953.49,162.8 953.67,151.6 953.86,148.2 954.04,163.1 954.23,148.6 954.41,164.2 954.60,156.6 954.78,148.5 954.97,162.2 955.15,150.8 955.33,162.9 955.52,156.7 955.70,146.9 955.89,164.9 956.07,148.5 956.26,164.2 956.44,159.4 956.63,148.7 956.81,164.2 957.00,147.9 957.18,162.0 957.37,153.8 957.55,149.3 957.73,163.9 957.92,148.5 958.10,164.4 958.29,160.5 958.47,150.9 958.66,165.1 958.84,150.0 959.03,163.8 959.21,158.5 959.40,150.6 959.58,162.2 959.76,150.1 959.95,168.4 960.13,154.6 960.32,148.5 960.50,163.3 960.69,147.6 960.87,164.0 961.06,152.1 961.24,144.7 961.43,165.0 961.61,145.9 961.80,162.6 961.98,163.8 962.16,144.8 962.35,164.9 962.53,146.2 962.72,189.7 962.90,154.6 963.09,138.4 963.27,164.1 963.46,144.3 963.64,165.7 963.83,161.1 964.01,145.1 964.20,163.0 964.38,144.8 964.56,167.9 964.75,161.5 964.93,148.4 965.12,165.0 965.30,143.6 965.49,166.7 965.67,171.9 965.86,148.9 966.04,163.3 966.23,143.5 966.41,166.3 966.59,159.1 966.78,148.4 966.96,165.9 967.15,148.7 967.33,166.1 967.52,156.0 967.70,147.3 967.89,166.8 968.07,145.8 968.26,163.9 968.44,163.1 968.63,147.6 968.81,164.5 968.99,147.9 969.18,166.8 969.36,137.2 969.55,145.8 969.73,164.9 969.92,147.3 970.10,165.0 970.29,160.8 970.47,147.9 970.66,165.0 970.84,148.9 971.03,166.0 971.21,162.1 971.39,147.2 971.58,168.6 971.76,149.9 971.95,173.5 972.13,159.9 972.32,143.2 972.50,166.3 972.69,150.3 972.87,169.0 973.06,188.8 973.24,146.6 973.42,166.8 973.61,146.5 973.79,165.6 973.98,156.9 974.16,149.8 974.35,166.2 974.53,147.6 974.72,165.1 974.90,154.8 975.09,149.3 975.27,167.3 975.46,146.4 975.64,167.6 975.82,110.0 976.01,148.5 976.19,166.1 976.38,138.8 976.56,167.7 976.75,160.2 976.93,148.9 977.12,166.0 977.30,146.4 977.49,166.9 977.67,158.3 977.86,147.3 978.04,168.1 978.22,149.0 978.41,164.3 978.59,160.3 978.78,147.1 978.96,168.6 979.15,145.6 979.33,166.1 979.52,157.6 979.70,147.5 979.89,164.4 980.07,145.0 980.26,165.4 980.44,160.2 980.62,130.6 980.81,166.4 980.99,145.6 981.18,165.8 981.36,154.1 981.55,146.5 981.73,169.1 981.92,145.3 982.10,165.6 982.29,157.6 982.47,144.3 982.65,169.5 982.84,138.3 983.02,179.4 983.21,153.9 983.39,144.2 983.58,165.0 983.76,129.2 983.95,165.3 984.13,156.2 984.32,148.7 984.50,170.2 984.69,103.4 984.87,165.6 985.05,164.8 985.24,146.9 985.42,168.1 985.61,146.7 985.79,163.1 985.98,166.2 986.16,144.1 986.35,164.4 986.53,146.7 986.72,162.0 986.90,159.3 987.09,148.6 987.27,163.6 987.45,147.5 987.64,168.9 987.82,154.6 988.01,121.2 988.19,169.9 988.38,146.7 988.56,172.8 988.75,160.0 988.93,145.5 989.12,170.0 989.30,149.1 989.48,169.8 989.67,232.2 989.85,150.8 990.04,170.2 990.22,150.1 990.41,174.0 990.59,158.0 990.78,136.0 990.96,167.1 991.15,145.7 991.33,172.9 991.52,155.3 991.70,150.3 991.88,170.4 992.07,149.3 992.25,167.7 992.44,152.9 992.62,150.5 992.81,113.4 992.99,148.5 993.18,172.1 993.36,155.6 993.55,149.3 993.73,171.2 993.92,129.2 994.10,170.2 994.28,159.4 994.47,146.7 994.65,173.1 994.84,149.5 995.02,170.2 995.21,159.6 995.39,146.0 995.58,170.6 995.76,148.6 995.95,171.2 996.13,158.7 996.32,149.3 996.50,169.3 996.68,149.5 996.87,171.8 997.05,157.8 997.24,148.7 997.42,187.8 997.61,150.0 997.79,167.3 997.98,160.0 998.16,148.9 998.35,169.9 998.53,146.0 998.71,173.0 998.90,153.5 999.08,138.6 999.27,169.1 999.45,150.8 999.64,167.2 999.82,159.4 1000.01,148.2 1000.19,171.4 1000.38,147.1 1000.56,171.3 1000.75,153.0 1000.93,149.2 1001.11,173.9 1001.30,149.4 1001.48,171.8 1001.67,158.8 1001.85,150.2 1002.04,172.2 1002.22,128.8 1002.41,173.8 1002.59,158.4 1002.78,145.2 1002.96,170.6 1003.15,138.4 1003.33,167.3 1003.51,154.9 1003.70,147.6 1003.88,172.7 1004.07,147.3 1004.25,166.9 1004.44,163.8 1004.62,152.7 1004.81,170.8 1004.99,152.8 1005.18,173.9 1005.36,152.3 1005.54,151.1 1005.73,171.3 1005.91,152.4 1006.10,170.1 1006.28,154.0 1006.47,152.6 1006.65,169.4 1006.84,148.9 1007.02,168.1 1007.21,156.5 1007.39,149.9 1007.58,164.9 1007.76,136.2 1007.94,163.4 1008.13,153.8 1008.31,149.5 1008.50,163.8 1008.68,149.2 1008.87,163.3 1009.05,154.6 1009.24,144.0 1009.42,164.1 1009.61,149.9 1009.79,164.2 1009.98,156.0 1010.16,150.3 1010.34,172.5 1010.53,125.0 1010.71,164.7 1010.90,169.0 1011.08,149.6 1011.27,162.3 1011.45,147.6 1011.64,163.8 1011.82,159.9 1012.01,151.0 1012.19,172.0 1012.37,147.9 1012.56,162.7 1012.74,156.0 1012.93,150.9 1013.11,163.7 1013.30,150.5 1013.48,169.3 1013.67,159.2 1013.85,147.2 1014.04,163.7 1014.22,148.6 1014.41,164.8 1014.59,160.4 1014.77,129.6 1014.96,164.8 1015.14,147.4 1015.33,162.7 1015.51,162.1 1015.70,147.6 1015.88,168.1 1016.07,145.0 1016.25,164.4 1016.44,161.9 1016.62,147.5 1016.81,165.2 1016.99,146.4 1017.17,162.1 1017.36,162.3 1017.54,147.7 1017.73,164.8 1017.91,127.2 1018.10,165.7 1018.28,147.3 1018.47,121.2 1018.65,164.5 1018.84,141.7 1019.02,165.7 1019.21,163.5 1019.39,141.4 1019.57,165.6 1019.76,140.4 1019.94,170.7 1020.13,155.4 1020.31,142.6 1020.50,164.2 1020.68,208.4 1020.87,174.7 1021.05,156.7 1021.24,144.5 1021.42,173.7 1021.60,124.0 1021.79,175.5 1021.97,154.0 1022.16,127.6 1022.34,172.8 1022.53,140.5 1022.71,168.7 1022.90,156.5 1023.08,142.2 1023.27,192.6 1023.45,142.9 1023.64,170.6 1023.82,157.2 1024.00,143.1 1024.19,174.0 1024.37,144.8 1024.56,171.0 1024.74,155.8 1024.93,140.8 1025.11,173.5 1025.30,138.6 1025.48,171.9 1025.67,151.7 1025.85,145.4 1026.04,186.9 1026.22,147.0 1026.40,176.0 1026.59,159.6 1026.77,135.7 1026.96,195.8 1027.14,147.0 1027.33,172.7 1027.51,154.2 1027.70,149.0 1027.88,177.9 1028.07,132.5 1028.25,165.5 1028.43,154.9 1028.62,143.4 1028.80,162.8 1028.99,146.2 1029.17,165.0 1029.36,167.9 1029.54,148.4 1029.73,162.8 1029.91,147.6 1030.10,162.6 1030.28,156.0 1030.47,143.4 1030.65,164.9 1030.83,146.9 1031.02,163.0 1031.20,156.1 1031.39,147.1 1031.57,174.0 1031.76,147.2 1031.94,165.0 1032.13,158.2 1032.31,139.4 1032.50,164.5 1032.68,145.2 1032.87,170.2 1033.05,157.3 1033.23,146.6 1033.42,171.4 1033.60,144.5 1033.79,168.4 1033.97,156.7 1034.16,146.4 1034.34,175.7 1034.53,150.3 1034.71,173.0 1034.90,152.9 1035.08,150.1 1035.26,186.2 1035.45,146.7 1035.63,174.8 1035.82,159.7 1036.00,145.3 1036.19,172.2 1036.37,143.2 1036.56,121.2 1036.74,151.8 1036.93,143.0 1037.11,175.7 1037.30,149.4 1037.48,170.6 1037.66,154.4 1037.85,149.3 1038.03,171.6 1038.22,143.3 1038.40,171.8 1038.59,156.1 1038.77,147.1 1038.96,174.1 1039.14,144.5 1039.33,218.6 1039.51,152.1 1039.70,147.8 1039.88,174.5 1040.06,143.4 1040.25,110.0 1040.43,152.8 1040.62,144.8 1040.80,172.6 1040.99,145.8 1041.17,175.6 1041.36,155.5 1041.54,147.4 1041.73,183.8 1041.91,145.3 1042.10,173.4 1042.28,152.6 1042.46,148.7 1042.65,199.2 1042.83,145.4 1043.02,172.0 1043.20,148.4 1043.39,146.6 1043.57,173.3 1043.76,137.1 1043.94,202.0 1044.13,158.1 1044.31,145.9 1044.49,171.8 1044.68,147.0 1044.86,175.2 1045.05,110.0 1045.23,149.3 1045.42,174.1 1045.60,149.2 1045.79,168.7 1045.97,151.2 1046.16,150.4 1046.34,168.4 1046.53,147.0 1046.71,164.8 1046.89,157.8 1047.08,149.2 1047.26,164.8 1047.45,146.5 1047.63,167.2 1047.82,151.7 1048.00,149.0 1048.19,187.3 1048.37,146.7 1048.56,166.2 1048.74,156.0 1048.93,149.8 1049.11,169.6 1049.29,149.2 1049.48,168.7 1049.66,134.4 1049.85,138.8 1050.03,167.6 1050.22,143.3 1050.40,166.6 1050.59,156.7 1050.77,146.5 1050.96,174.9 1051.14,149.6 1051.32,172.4 1051.51,156.0 1051.69,146.8 1051.88,177.6 1052.06,149.5 1052.25,169.7 1052.43,156.4 1052.62,132.9 1052.80,170.1 1052.99,132.0 1053.17,198.8 1053.36,150.6 1053.54,149.6 1053.72,169.8 1053.91,147.6 1054.09,175.1 1054.28,159.6 1054.46,149.1 1054.65,208.5 1054.83,149.2 1055.02,176.9 1055.20,153.9 1055.39,145.5 1055.57,174.4 1055.76,147.9 1055.94,169.7 1056.12,157.6 1056.31,148.3 1056.49,186.8 1056.68,110.0 1056.86,176.8 1057.05,153.8 1057.23,145.0 1057.42,170.7 1057.60,147.3 1057.79,176.8 1057.97,156.4 1058.16,148.3 1058.34,169.0 1058.52,149.6 1058.71,170.9 1058.89,157.4 1059.08,149.3 1059.26,170.0 1059.45,149.0 1059.63,178.4 1059.82,157.9 1060.00,144.5 1060.19,175.0 1060.37,150.0 1060.55,164.3 1060.74,161.7 1060.92,144.4 1061.11,163.3 1061.29,139.2 1061.48,166.2 1061.66,157.9 1061.85,147.6 1062.03,163.5 1062.22,143.4 1062.40,164.4 1062.59,164.1 1062.77,144.9 1062.95,165.7 1063.14,147.9 1063.32,162.5 1063.51,145.6 1063.69,145.0 1063.88,163.3 1064.06,145.3 1064.25,163.4 1064.43,157.3 1064.62,150.0 1064.80,164.7 1064.99,149.3 1065.17,167.5 1065.35,157.5 1065.54,136.7 1065.72,163.8 1065.91,137.0 1066.09,167.1 1066.28,159.3 1066.46,142.2 1066.65,166.3 1066.83,141.9 1067.02,166.8 1067.20,155.9 1067.38,140.1 1067.57,174.8 1067.75,138.0 1067.94,164.5 1068.12,158.1 1068.31,109.7 1068.49,166.3 1068.68,136.3 1068.86,167.1 1069.05,160.7 1069.23,140.7 1069.42,134.4 1069.60,137.2 1069.78,168.6 1069.97,155.4 1070.15,144.8 1070.34,183.3 1070.52,142.0 1070.71,164.9 1070.89,163.2 1071.08,139.4 1071.26,175.9 1071.45,139.6 1071.63,167.3 1071.82,148.0 1072.00,121.6 1072.18,169.0 1072.37,142.3 1072.55,165.4 1072.74,152.7 1072.92,138.5 1073.11,167.7 1073.29,124.2 1073.48,166.8 1073.66,154.2 1073.85,122.0 1074.03,168.5 1074.21,143.5 1074.40,168.9 1074.58,164.2 1074.77,145.5 1074.95,168.5 1075.14,148.6 1075.32,169.1 1075.51,164.2 1075.69,146.3 1075.88,172.8 1076.06,148.8 1076.25,167.4 1076.43,157.4 1076.61,141.1 1076.80,174.8 1076.98,145.3 1077.17,170.2 1077.35,157.6 1077.54,148.4 1077.72,172.2 1077.91,150.0 1078.09,175.4 1078.28,160.6 1078.46,146.6 1078.65,171.3 1078.83,147.8 1079.01,169.7 1079.20,140.2 1079.38,139.4 1079.57,171.5 1079.75,140.7 1079.94,173.4 1080.12,158.4 1080.31,134.7 1080.49,168.4 1080.68,143.3 1080.86,168.0 1081.05,157.6 1081.23,139.2 1081.41,174.9 1081.60,145.6 1081.78,167.5 1081.97,164.5 1082.15,139.4 1082.34,170.0 1082.52,139.3 1082.71,175.4 1082.89,167.1 1083.08,140.6 1083.26,170.9 1083.44,139.4 1083.63,163.4 1083.81,152.5 1084.00,143.2 1084.18,166.9 1084.37,141.3 1084.55,163.3 1084.74,162.7 1084.92,143.6 1085.11,163.3 1085.29,144.7 1085.48,166.4 1085.66,163.5 1085.84,146.3 1086.03,165.2 1086.21,125.0 1086.40,167.4 1086.58,165.7 1086.77,140.9 1086.95,165.8 1087.14,139.9 1087.32,173.1 1087.51,156.3 1087.69,136.1 1087.88,227.4 1088.06,138.1 1088.24,170.0 1088.43,160.2 1088.61,142.7 1088.80,177.2 1088.98,137.7 1089.17,177.0 1089.35,160.4 1089.54,136.1 1089.72,208.9 1089.91,144.8 1090.09,177.3 1090.27,155.7 1090.46,138.8 1090.64,169.2 1090.83,139.8 1091.01,168.9 1091.20,156.4 1091.38,132.8 1091.57,172.1 1091.75,136.0 1091.94,175.4 1092.12,149.0 1092.31,136.9 1092.49,169.2 1092.67,142.2 1092.86,173.7 1093.04,162.1 1093.23,138.4 1093.41,170.4 1093.60,143.7 1093.78,172.2 1093.97,154.3 1094.15,137.1 1094.34,172.0 1094.52,141.5 1094.71,173.2 1094.89,160.1 1095.07,144.5 1095.26,172.6 1095.44,138.9 1095.63,172.0 1095.81,163.5 1096.00,137.1 1096.18,172.8 1096.37,138.8 1096.55,173.3 1096.74,158.9 1096.92,151.6 1097.11,173.1 1097.29,151.1 1097.47,170.3 1097.66,156.1 1097.84,151.2 1098.03,173.2 1098.21,150.5 1098.40,169.1 1098.58,157.5 1098.77,151.3 1098.95,177.6 1099.14,150.8 1099.32,169.7 1099.50,151.3 1099.69,152.3 1099.87,174.1 1100.06,149.9 1100.24,198.9 1100.43,160.2 1100.61,150.6 1100.80,177.4 1100.98,151.7 1101.17,193.8 1101.35,152.0 1101.54,149.6 1101.72,163.3 1101.90,149.7 1102.09,166.7 1102.27,161.4 1102.46,152.4 1102.64,169.3 1102.83,149.4 1103.01,167.6 1103.20,157.8 1103.38,151.5 1103.57,171.1 1103.75,149.7 1103.94,168.0 1104.12,163.8 1104.30,151.2 1104.49,171.7 1104.67,151.3 1104.86,170.4 1105.04,154.1 1105.23,152.7 1105.41,167.4 1105.60,224.1 1105.78,167.2 1105.97,166.1 1106.15,150.7 1106.33,170.7 1106.52,143.9 1106.70,171.1 1106.89,123.1 1107.07,139.8 1107.26,169.7 1107.44,145.6 1107.63,175.1 1107.81,154.7 1108.00,143.0 1108.18,174.1 1108.37,141.0 1108.55,175.9 1108.73,151.7 1108.92,143.6 1109.10,183.3 1109.29,141.8 1109.47,178.4 1109.66,162.8 1109.84,139.4 1110.03,171.5 1110.21,144.5 1110.40,170.4 1110.58,157.2 1110.77,143.8 1110.95,171.5 1111.13,146.6 1111.32,169.7 1111.50,162.7 1111.69,143.8 1111.87,169.4 1112.06,139.2 1112.24,169.5 1112.43,147.3 1112.61,144.5 1112.80,172.8 1112.98,143.5 1113.16,170.9 1113.35,162.9 1113.53,141.3 1113.72,219.2 1113.90,146.5 1114.09,173.1 1114.27,160.3 1114.46,112.0 1114.64,172.0 1114.83,142.4 1115.01,173.3 1115.20,164.8 1115.38,140.3 1115.56,170.2 1115.75,141.9 1115.93,178.2 1116.12,159.5 1116.30,123.9 1116.49,175.8 1116.67,143.3 1116.86,176.5 1117.04,159.0 1117.23,146.5 1117.41,177.3 1117.60,144.9 1117.78,169.5 1117.96,163.0 1118.15,122.2 1118.33,172.8 1118.52,143.2 1118.70,175.5 1118.89,156.4 1119.07,144.1 1119.26,174.0 1119.44,138.4 1119.63,172.0 1119.81,154.2 1120.00,146.9 1120.18,169.5 1120.36,141.9 1120.55,166.4 1120.73,155.3 1120.92,144.9 1121.10,165.4 1121.29,139.3 1121.47,163.3 1121.66,157.3 1121.84,142.3 1122.03,163.6 1122.21,141.5 1122.39,164.7 1122.58,167.8 1122.76,130.6 1122.95,169.4 1123.13,140.3 1123.32,168.0 1123.50,161.8 1123.69,131.6 1123.87,171.7 1124.06,142.2 1124.24,170.2 1124.43,152.1 1124.61,140.5 1124.79,173.9 1124.98,142.6 1125.16,169.3 1125.35,160.8 1125.53,123.2 1125.72,172.7 1125.90,144.5 1126.09,173.2 1126.27,158.1 1126.46,142.2 1126.64,172.8 1126.83,142.1 1127.01,172.1 1127.19,147.7 1127.38,144.6 1127.56,126.9 1127.75,146.8 1127.93,169.6 1128.12,159.0 1128.30,142.2 1128.49,175.5 1128.67,130.1 1128.86,177.0 1129.04,154.1 1129.22,144.7 1129.41,172.1 1129.59,144.6 1129.78,174.8 1129.96,157.7 1130.15,142.0 1130.33,173.2 1130.52,138.9 1130.70,171.2 1130.89,151.4 1131.07,141.9 1131.26,174.4 1131.44,142.5 1131.62,170.0 1131.81,150.0 1131.99,142.6 1132.18,121.2 1132.36,147.9 1132.55,205.2 1132.73,157.1 1132.92,147.0 1133.10,169.5 1133.29,136.7 1133.47,169.4 1133.66,158.2 1133.84,118.8 1134.02,176.8 1134.21,151.2 1134.39,171.0 1134.58,157.7 1134.76,147.2 1134.95,169.7 1135.13,147.4 1135.32,172.1 1135.50,159.8 1135.69,147.8 1135.87,175.9 1136.05,146.9 1136.24,170.2 1136.42,156.0 1136.61,151.4 1136.79,212.8 1136.98,139.2 1137.16,177.6 1137.35,152.8 1137.53,151.3 1137.72,170.6 1137.90,149.9 1138.09,110.0 1138.27,152.5 1138.45,151.6 1138.64,171.4 1138.82,151.5 1139.01,171.3 1139.19,156.4 1139.38,147.1 1139.56,172.1 1139.75,152.9 1139.93,169.5 1140.12,156.8 1140.30,151.7 1140.49,174.2 1140.67,153.0 1140.85,174.9 1141.04,153.9 1141.22,150.2 1141.41,173.4 1141.59,151.5 1141.78,170.9 1141.96,157.6 1142.15,149.7 1142.33,176.1 1142.52,151.8 1142.70,215.3 1142.89,155.4 1143.07,149.9 1143.25,175.1 1143.44,140.6 1143.62,176.4 1143.81,157.5 1143.99,150.3 1144.18,173.0 1144.36,151.3 1144.55,173.2 1144.73,154.8 1144.92,137.9 1145.10,171.7 1145.28,150.5 1145.47,171.1 1145.65,153.0 1145.84,151.5 1146.02,177.6 1146.21,150.5 1146.39,176.8 1146.58,152.0 1146.76,153.0 1146.95,163.8 1147.13,150.7 1147.32,118.0 1147.50,150.4"/>
<polyline fill="none" stroke="#FFFF00" stroke-width="1" shape-rendering="crispEdges" points="682.50,158.5 682.68,157.3 682.87,157.2 683.05,158.1 683.24,155.9 683.42,158.2 683.61,158.8 683.79,156.0 683.98,156.5 684.16,158.8 684.35,156.6 684.53,155.8 684.72,158.0 684.90,158.3 685.08,158.2 685.27,158.7 685.45,158.3 685.64,155.4 685.82,157.0 686.01,156.6 686.19,156.8 686.38,155.2 686.56,156.6 686.75,156.5 686.93,155.1 687.11,158.5 687.30,157.5 687.48,156.4 687.67,157.9 687.85,159.7 688.04,154.5 688.22,158.5 688.41,155.5 688.59,158.7 688.78,155.7 688.96,158.1 689.15,161.6 689.33,158.9 689.51,158.3 689.70,160.2 689.88,151.7 690.07,161.3 690.25,155.7 690.44,156.5 690.62,159.0 690.81,156.0 690.99,153.9 691.18,153.5 691.36,159.4 691.55,156.9 691.73,157.7 691.91,162.5 692.10,156.4 692.28,160.1 692.47,158.1 692.65,156.8 692.84,157.8 693.02,158.1 693.21,158.9 693.39,157.7 693.58,160.1 693.76,159.9 693.95,156.9 694.13,157.3 694.31,156.7 694.50,155.9 694.68,159.1 694.87,155.5 695.05,158.1 695.24,157.5 695.42,159.3 695.61,158.3 695.79,160.8 695.98,157.5 696.16,151.4 696.34,158.4 696.53,157.0 696.71,159.0 696.90,158.0 697.08,157.3 697.27,158.3 697.45,152.2 697.64,157.9 697.82,153.3 698.01,159.0 698.19,160.9 698.38,156.6 698.56,155.9 698.74,158.5 698.93,156.9 699.11,161.6 699.30,152.6 699.48,155.8 699.67,157.2 699.85,156.7 700.04,156.4 700.22,158.6 700.41,159.0 700.59,160.2 700.78,158.3 700.96,158.7 701.14,158.7 701.33,156.9 701.51,157.0 701.70,155.5 701.88,157.2 702.07,157.4 702.25,157.7 702.44,155.1 702.62,151.7 702.81,157.5 702.99,158.0 703.17,157.8 703.36,157.9 703.54,156.5 703.73,159.0 703.91,153.6 704.10,154.5 704.28,157.1 704.47,156.0 704.65,156.0 704.84,157.8 705.02,155.0 705.21,158.9 705.39,159.8 705.57,158.4 705.76,159.3 705.94,159.4 706.13,157.6 706.31,158.9 706.50,157.9 706.68,151.2 706.87,157.9 707.05,159.4 707.24,160.7 707.42,156.7 707.61,156.0 707.79,157.1 707.97,156.3 708.16,159.0 708.34,156.5 708.53,155.9 708.71,156.3 708.90,156.6 709.08,155.9 709.27,154.3 709.45,154.2 709.64,158.5 709.82,157.8 710.00,155.6 710.19,158.5 710.37,159.0 710.56,161.0 710.74,158.7 710.93,158.1 711.11,160.2 711.30,155.9 711.48,157.2 711.67,156.9 711.85,155.4 712.04,160.0 712.22,156.1 712.40,155.7 712.59,156.7 712.77,159.3 712.96,156.8 713.14,156.5 713.33,155.8 713.51,157.4 713.70,156.9 713.88,158.1 714.07,152.9 714.25,153.4 714.44,155.6 714.62,158.5 714.80,153.2 714.99,155.9 715.17,157.6 715.36,154.0 715.54,157.8 715.73,156.8 715.91,154.3 716.10,159.1 716.28,160.2 716.47,158.3 716.65,155.5 716.84,158.0 717.02,158.1 717.20,155.8 717.39,160.9 717.57,153.3 717.76,158.1 717.94,151.6 718.13,156.7 718.31,163.0 718.50,161.2 718.68,156.3 718.87,157.4 719.05,158.0 719.23,153.0 719.42,156.3 719.60,154.3 719.79,159.4 719.97,157.5 720.16,156.3 720.34,161.1 720.53,154.6 720.71,154.7 720.90,159.4 721.08,160.9 721.27,157.3 721.45,156.7 721.63,157.9 721.82,158.8 722.00,160.3 722.19,156.3 722.37,157.3 722.56,158.2 722.74,153.7 722.93,155.3 723.11,158.4 723.30,160.8 723.48,160.8 723.67,154.0 723.85,159.1 724.03,155.6 724.22,156.0 724.40,154.1 724.59,160.9 724.77,158.8 724.96,158.6 725.14,156.4 725.33,157.3 725.51,158.2 725.70,154.4 725.88,160.8 726.06,157.1 726.25,155.9 726.43,157.2 726.62,157.5 726.80,161.9 726.99,159.0 727.17,154.9 727.36,158.0 727.54,157.4 727.73,156.0 727.91,157.6 728.10,155.7 728.28,155.5 728.46,158.7 728.65,157.2 728.83,157.5 729.02,158.1 729.20,155.1 729.39,160.5 729.57,158.9 729.76,157.9 729.94,155.1 730.13,157.0 730.31,157.0 730.50,154.9 730.68,158.1 730.86,159.2 731.05,157.4 731.23,157.7 731.42,156.9 731.60,160.9 731.79,157.0 731.97,159.0 732.16,155.5 732.34,155.4 732.53,157.2 732.71,162.0 732.89,158.4 733.08,159.3 733.26,156.8 733.45,158.1 733.63,156.9 733.82,156.2 734.00,158.2 734.19,160.0 734.37,158.2 734.56,152.2 734.74,159.3 734.93,162.2 735.11,155.2 735.29,158.9 735.48,155.9 735.66,159.7 735.85,159.6 736.03,161.2 736.22,157.0 736.40,156.6 736.59,151.8 736.77,156.8 736.96,159.0 737.14,162.5 737.33,158.6 737.51,157.1 737.69,158.1 737.88,161.7 738.06,157.5 738.25,152.6 738.43,157.0 738.62,157.7 738.80,157.8 738.99,153.6 739.17,158.0 739.36,162.4 739.54,157.9 739.73,157.2 739.91,156.2 740.09,163.0 740.28,156.5 740.46,157.8 740.65,162.7 740.83,158.2 741.02,157.1 741.20,157.5 741.39,155.9 741.57,160.5 741.76,158.8 741.94,156.4 742.12,157.7 742.31,156.2 742.49,156.3 742.68,157.1 742.86,153.4 743.05,161.0 743.23,158.7 743.42,158.9 743.60,157.1 743.79,156.8 743.97,155.6 744.16,158.3 744.34,155.3 744.52,152.7 744.71,156.0 744.89,160.3 745.08,155.3 745.26,158.7 745.45,159.2 745.63,160.8 745.82,158.8 746.00,155.2 746.19,157.7 746.37,158.8 746.56,156.7 746.74,155.0 746.92,158.5 747.11,159.3 747.29,158.7 747.48,154.1 747.66,159.3 747.85,159.3 748.03,163.4 748.22,157.5 748.40,157.4 748.59,158.8 748.77,160.7 748.95,161.5 749.14,158.7 749.32,158.1 749.51,158.1 749.69,154.2 749.88,155.5 750.06,154.1 750.25,158.2 750.43,160.6 750.62,156.3 750.80,160.0 750.99,158.3 751.17,155.2 751.35,161.4 751.54,156.3 751.72,157.5 751.91,155.1 752.09,156.2 752.28,155.9 752.46,159.1 752.65,155.4 752.83,155.3 753.02,158.4 753.20,153.9 753.39,157.2 753.57,151.6 753.75,154.1 753.94,157.5 754.12,157.4 754.31,157.6 754.49,157.2 754.68,154.8 754.86,158.3 755.05,156.9 755.23,155.7 755.42,154.2 755.60,158.6 755.79,157.1 755.97,152.5 756.15,155.7 756.34,157.3 756.52,159.0 756.71,155.3 756.89,163.0 757.08,154.6 757.26,157.9 757.45,156.3 757.63,157.6 757.82,155.9 758.00,157.2 758.18,157.9 758.37,157.1 758.55,157.8 758.74,156.5 758.92,158.1 759.11,157.7 759.29,156.3 759.48,158.3 759.66,155.0 759.85,156.5 760.03,156.2 760.22,155.3 760.40,158.0 760.58,155.5 760.77,160.1 760.95,156.0 761.14,154.9 761.32,158.7 761.51,153.6 761.69,155.5 761.88,157.6 762.06,160.3 762.25,162.4 762.43,156.6 762.62,160.0 762.80,156.6 762.98,161.4 763.17,156.4 763.35,157.0 763.54,155.5 763.72,155.7 763.91,157.2 764.09,158.6 764.28,159.4 764.46,157.6 764.65,161.3 764.83,152.9 765.01,156.6 765.20,163.1 765.38,152.3 765.57,156.6 765.75,158.9 765.94,155.5 766.12,151.4 766.31,156.5 766.49,158.3 766.68,156.2 766.86,155.1 767.05,160.0 767.23,155.7 767.41,159.5 767.60,159.5 767.78,161.1 767.97,160.4 768.15,160.5 768.34,159.8 768.52,154.0 768.71,157.2 768.89,153.3 769.08,158.2 769.26,163.9 769.45,153.6 769.63,156.6 769.81,157.2 770.00,159.3 770.18,159.3 770.37,156.3 770.55,153.2 770.74,162.0 770.92,163.9 771.11,157.6 771.29,157.8 771.48,162.7 771.66,158.5 771.84,153.4 772.03,155.6 772.21,156.4 772.40,164.6 772.58,158.7 772.77,153.7 772.95,160.0 773.14,159.2 773.32,162.2 773.51,163.9 773.69,154.8 773.88,155.2 774.06,155.8 774.24,158.5 774.43,154.8 774.61,157.9 774.80,160.7 774.98,154.6 775.17,159.9 775.35,154.8 775.54,164.5 775.72,158.3 775.91,157.3 776.09,159.0 776.28,153.9 776.46,155.5 776.64,160.5 776.83,158.2 777.01,153.5 777.20,159.0 777.38,154.8 777.57,161.9 777.75,158.0 777.94,156.5 778.12,161.6 778.31,153.3 778.49,155.8 778.68,157.3 778.86,155.7 779.04,164.0 779.23,156.6 779.41,157.5 779.60,155.5 779.78,157.2 779.97,165.3 780.15,148.9 780.34,159.2 780.52,158.8 780.71,156.7 780.89,154.8 781.07,158.0 781.26,156.2 781.44,151.6 781.63,154.3 781.81,152.8 782.00,155.5 782.18,161.5 782.37,153.1 782.55,158.4 782.74,158.0 782.92,157.4 783.11,152.0 783.29,158.3 783.47,154.0 783.66,157.5 783.84,157.0 784.03,160.7 784.21,156.4 784.40,156.4 784.58,154.8 784.77,161.4 784.95,156.5 785.14,160.9 785.32,161.6 785.51,158.4 785.69,161.1 785.87,156.9 786.06,160.0 786.24,162.4 786.43,154.2 786.61,161.3 786.80,158.6 786.98,158.2 787.17,161.1 787.35,157.6 787.54,157.2 787.72,162.2 787.90,156.5 788.09,164.7 788.27,160.0 788.46,154.1 788.64,159.9 788.83,160.3 789.01,159.1 789.20,156.6 789.38,158.7 789.57,161.2 789.75,156.0 789.94,152.0 790.12,155.6 790.30,154.3 790.49,161.5 790.67,158.4 790.86,157.9 791.04,156.7 791.23,154.5 791.41,157.8 791.60,158.5 791.78,154.7 791.97,151.8 792.15,153.4 792.34,155.2 792.52,158.6 792.70,157.0 792.89,157.3 793.07,157.3 793.26,161.1 793.44,157.4 793.63,155.4 793.81,159.3 794.00,161.2 794.18,159.9 794.37,164.3 794.55,158.2 794.74,159.0 794.92,159.1 795.10,155.0 795.29,157.6 795.47,156.9 795.66,158.4 795.84,157.4 796.03,156.8 796.21,159.0 796.40,155.7 796.58,157.2 796.77,164.5 796.95,156.6 797.13,162.1 797.32,154.3 797.50,155.0 797.69,157.3 797.87,159.2 798.06,151.0 798.24,162.6 798.43,160.4 798.61,155.9 798.80,161.5 798.98,153.0 799.17,155.0 799.35,159.6 799.53,153.7 799.72,157.3 799.90,158.6 800.09,156.2 800.27,160.8 800.46,159.7 800.64,160.5 800.83,158.5 801.01,159.6 801.20,160.2 801.38,154.4 801.57,156.6 801.75,157.1 801.93,155.6 802.12,157.5 802.30,153.4 802.49,159.1 802.67,156.5 802.86,157.6 803.04,157.4 803.23,160.4 803.41,157.4 803.60,154.5 803.78,153.2 803.96,156.1 804.15,159.2 804.33,156.2 804.52,159.3 804.70,157.8 804.89,154.3 805.07,162.1 805.26,156.6 805.44,160.0 805.63,162.4 805.81,159.5 806.00,157.1 806.18,157.0 806.36,152.4 806.55,158.3 806.73,156.4 806.92,159.1 807.10,156.0 807.29,161.9 807.47,159.3 807.66,159.5 807.84,158.9 808.03,156.0 808.21,161.9 808.40,159.4 808.58,160.9 808.76,156.5 808.95,157.1 809.13,157.8 809.32,156.8 809.50,160.1 809.69,153.8 809.87,154.7 810.06,158.2 810.24,161.5 810.43,162.6 810.61,163.2 810.79,161.2 810.98,155.4 811.16,155.1 811.35,156.0 811.53,157.9 811.72,162.9 811.90,157.6 812.09,164.1 812.27,153.2 812.46,159.5 812.64,155.4 812.83,158.0 813.01,158.9 813.19,159.3 813.38,156.4 813.56,156.2 813.75,156.3 813.93,157.7 814.12,160.7 814.30,150.9 814.49,154.3 814.67,157.4 814.86,155.4 815.04,158.8 815.23,160.4 815.41,158.1 815.59,153.4 815.78,156.7 815.96,158.8 816.15,153.9 816.33,156.5 816.52,157.9 816.70,157.7 816.89,155.4 817.07,157.0 817.26,154.6 817.44,153.6 817.63,157.0 817.81,156.1 817.99,160.6 818.18,151.5 818.36,160.1 818.55,155.6 818.73,156.7 818.92,155.6 819.10,154.7 819.29,158.0 819.47,156.2 819.66,159.8 819.84,158.1 820.02,153.9 820.21,154.3 820.39,157.7 820.58,160.6 820.76,155.2 820.95,160.3 821.13,155.4 821.32,158.8 821.50,161.8 821.69,159.4 821.87,154.5 822.06,161.6 822.24,159.3 822.42,155.3 822.61,155.3 822.79,156.7 822.98,154.7 823.16,155.8 823.35,156.6 823.53,156.1 823.72,158.0 823.90,158.6 824.09,155.7 824.27,157.5 824.46,160.0 824.64,159.1 824.82,155.6 825.01,160.6 825.19,156.9 825.38,152.1 825.56,156.5 825.75,156.0 825.93,158.9 826.12,158.5 826.30,154.8 826.49,159.1 826.67,156.9 826.85,155.7 827.04,158.8 827.22,158.9 827.41,155.4 827.59,159.5 827.78,155.1 827.96,158.0 828.15,160.0 828.33,156.5 828.52,153.6 828.70,157.3 828.89,161.9 829.07,155.5 829.25,155.0 829.44,155.6 829.62,159.4 829.81,158.6 829.99,161.8 830.18,156.6 830.36,153.5 830.55,155.9 830.73,154.4 830.92,158.8 831.10,159.2 831.29,162.1 831.47,159.3 831.65,159.5 831.84,160.5 832.02,151.7 832.21,156.2 832.39,156.0 832.58,153.8 832.76,155.9 832.95,163.5 833.13,158.5 833.32,161.5 833.50,157.6 833.68,159.2 833.87,156.5 834.05,155.8 834.24,155.5 834.42,156.0 834.61,156.4 834.79,155.4 834.98,153.9 835.16,156.5 835.35,155.3 835.53,154.8 835.72,156.1 835.90,156.7 836.08,153.9 836.27,155.4 836.45,159.9 836.64,156.3 836.82,161.5 837.01,157.1 837.19,159.2 837.38,158.7 837.56,156.8 837.75,157.9 837.93,158.4 838.12,158.2 838.30,157.9 838.48,155.4 838.67,152.4 838.85,155.4 839.04,160.3 839.22,159.3 839.41,158.3 839.59,156.0 839.78,151.6 839.96,158.4 840.15,159.0 840.33,158.1 840.52,159.2 840.70,155.7 840.88,153.8 841.07,155.6 841.25,156.4 841.44,158.9 841.62,157.5 841.81,155.1 841.99,159.9 842.18,159.1 842.36,156.9 842.55,157.8 842.73,158.6 842.91,162.0 843.10,152.9 843.28,159.6 843.47,156.7 843.65,155.6 843.84,153.8 844.02,157.3 844.21,155.1 844.39,157.1 844.58,157.0 844.76,159.0 844.95,159.8 845.13,159.7 845.31,156.0 845.50,156.9 845.68,155.9 845.87,158.9 846.05,159.7 846.24,161.1 846.42,160.2 846.61,163.1 846.79,159.1 846.98,156.7 847.16,159.9 847.35,156.9 847.53,157.9 847.71,159.8 847.90,159.8 848.08,159.8 848.27,157.2 848.45,161.2 848.64,159.4 848.82,157.7 849.01,157.7 849.19,155.4 849.38,160.0 849.56,158.5 849.74,152.3 849.93,159.9 850.11,156.5 850.30,158.0 850.48,154.9 850.67,152.0 850.85,156.3 851.04,157.5 851.22,159.6 851.41,158.5 851.59,156.6 851.78,157.8 851.96,156.7 852.14,160.9 852.33,157.1 852.51,154.3 852.70,159.5 852.88,159.0 853.07,161.3 853.25,156.9 853.44,156.6 853.62,158.1 853.81,159.9 853.99,158.6 854.18,157.6 854.36,161.5 854.54,159.0 854.73,155.9 854.91,159.0 855.10,162.9 855.28,158.8 855.47,159.1 855.65,156.9 855.84,159.2 856.02,155.5 856.21,161.2 856.39,157.7 856.58,160.4 856.76,157.0 856.94,160.6 857.13,157.4 857.31,156.6 857.50,157.6 857.68,155.7 857.87,157.4 858.05,159.4 858.24,154.9 858.42,160.5 858.61,154.1 858.79,156.3 858.97,158.5 859.16,153.0 859.34,155.8 859.53,160.6 859.71,154.8 859.90,159.0 860.08,151.4 860.27,160.4 860.45,155.4 860.64,155.5 860.82,159.4 861.01,157.3 861.19,161.4 861.37,159.3 861.56,156.4 861.74,156.5 861.93,156.4 862.11,157.8 862.30,156.7 862.48,158.3 862.67,158.2 862.85,156.6 863.04,158.9 863.22,160.0 863.41,157.7 863.59,158.4 863.77,155.8 863.96,163.0 864.14,162.5 864.33,155.2 864.51,157.5 864.70,161.9 864.88,155.7 865.07,159.4 865.25,156.4 865.44,162.2 865.62,159.4 865.80,158.6 865.99,163.5 866.17,154.7 866.36,159.7 866.54,155.3 866.73,159.5 866.91,157.8 867.10,153.0 867.28,155.6 867.47,158.7 867.65,158.4 867.84,158.5 868.02,159.8 868.20,155.9 868.39,158.0 868.57,155.4 868.76,158.2 868.94,158.7 869.13,157.4 869.31,156.7 869.50,157.5 869.68,156.5 869.87,159.4 870.05,154.9 870.24,156.6 870.42,160.8 870.60,164.4 870.79,154.4 870.97,159.2 871.16,158.2 871.34,151.7 871.53,159.7 871.71,160.5 871.90,158.6 872.08,158.1 872.27,159.1 872.45,155.5 872.63,158.5 872.82,157.7 873.00,157.7 873.19,157.5 873.37,157.6 873.56,160.3 873.74,155.3 873.93,156.4 874.11,159.8 874.30,156.9 874.48,158.7 874.67,157.0 874.85,159.4 875.03,158.4 875.22,155.2 875.40,157.5 875.59,156.8 875.77,162.7 875.96,160.2 876.14,156.2 876.33,157.8 876.51,152.9 876.70,157.3 876.88,160.3 877.07,154.4 877.25,157.2 877.43,155.4 877.62,159.0 877.80,159.5 877.99,156.6 878.17,153.5 878.36,158.7 878.54,159.6 878.73,157.5 878.91,160.4 879.10,160.3 879.28,160.3 879.47,158.8 879.65,160.3 879.83,156.8 880.02,155.7 880.20,155.8 880.39,156.8 880.57,161.1 880.76,153.5 880.94,157.0 881.13,157.7 881.31,158.4 881.50,156.6 881.68,153.1 881.86,160.8 882.05,156.6 882.23,156.7 882.42,161.5 882.60,157.3 882.79,154.9 882.97,160.9 883.16,157.5 883.34,159.1 883.53,155.4 883.71,161.3 883.90,157.8 884.08,160.6 884.26,153.2 884.45,165.4 884.63,162.9 884.82,155.5 885.00,150.3 885.19,156.7 885.37,158.7 885.56,155.9 885.74,147.9 885.93,154.1 886.11,153.9 886.30,159.1 886.48,154.6 886.66,159.3 886.85,158.2 887.03,153.9 887.22,165.3 887.40,160.6 887.59,153.1 887.77,157.5 887.96,155.5 888.14,148.8 888.33,162.7 888.51,156.1 888.69,156.7 888.88,159.0 889.06,155.8 889.25,156.8 889.43,157.7 889.62,161.3 889.80,156.1 889.99,161.7 890.17,158.0 890.36,156.6 890.54,158.9 890.73,160.1 890.91,157.7 891.09,160.0 891.28,155.4 891.46,163.2 891.65,157.2 891.83,155.9 892.02,160.4 892.20,156.8 892.39,153.3 892.57,155.6 892.76,159.5 892.94,151.4 893.13,159.7 893.31,160.3 893.49,160.0 893.68,160.7 893.86,155.8 894.05,159.1 894.23,157.9 894.42,154.5 894.60,154.1 894.79,160.7 894.97,155.9 895.16,156.8 895.34,156.3 895.53,156.8 895.71,159.9 895.89,157.9 896.08,155.1 896.26,158.3 896.45,153.6 896.63,157.8 896.82,157.9 897.00,157.5 897.19,156.6 897.37,154.0 897.56,156.6 897.74,160.3 897.92,156.6 898.11,155.8 898.29,156.2 898.48,159.5 898.66,159.3 898.85,157.1 899.03,157.7 899.22,158.2 899.40,154.7 899.59,162.2 899.77,157.8 899.96,152.6 900.14,157.5 900.32,161.7 900.51,158.9 900.69,156.8 900.88,161.3 901.06,157.0 901.25,159.1 901.43,155.2 901.62,158.0 901.80,159.0 901.99,163.1 902.17,158.9 902.36,158.5 902.54,153.6 902.72,153.5 902.91,155.2 903.09,151.5 903.28,160.0 903.46,155.4 903.65,153.8 903.83,157.1 904.02,157.2 904.20,161.6 904.39,161.0 904.57,159.4 904.75,153.9 904.94,155.8 905.12,158.6 905.31,161.9 905.49,162.7 905.68,160.4 905.86,160.5 906.05,159.8 906.23,152.0 906.42,155.9 906.60,161.1 906.79,159.9 906.97,159.6 907.15,155.8 907.34,156.1 907.52,158.2 907.71,157.8 907.89,160.2 908.08,156.8 908.26,155.0 908.45,158.1 908.63,157.8 908.82,155.1 909.00,160.1 909.19,159.4 909.37,151.0 909.55,158.6 909.74,156.6 909.92,154.8 910.11,161.2 910.29,157.9 910.48,158.0 910.66,154.6 910.85,156.3 911.03,156.6 911.22,156.1 911.40,160.0 911.58,160.1 911.77,156.7 911.95,158.1 912.14,157.3 912.32,156.1 912.51,155.3 912.69,157.7 912.88,157.4 913.06,158.4 913.25,157.6 913.43,159.7 913.62,154.4 913.80,154.4 913.98,160.6 914.17,158.3 914.35,152.4 914.54,155.8 914.72,155.3 914.91,157.4 915.09,157.8 915.28,154.9 915.46,155.4 915.65,155.5 915.83,157.0 916.02,154.5 916.20,156.8 916.38,159.2 916.57,152.7 916.75,157.1 916.94,160.9 917.12,158.0 917.31,161.3 917.49,160.8 917.68,158.2 917.86,157.2 918.05,155.5 918.23,160.2 918.42,152.1 918.60,158.0 918.78,158.8 918.97,161.4 919.15,160.4 919.34,161.1 919.52,156.2 919.71,158.8 919.89,154.7 920.08,161.5 920.26,156.4 920.45,154.5 920.63,152.2 920.81,158.8 921.00,156.9 921.18,160.4 921.37,157.1 921.55,156.5 921.74,154.8 921.92,155.5 922.11,153.1 922.29,160.4 922.48,158.8 922.66,162.8 922.85,155.0 923.03,161.6 923.21,156.2 923.40,158.8 923.58,155.2 923.77,157.4 923.95,161.1 924.14,157.3 924.32,155.3 924.51,158.5 924.69,160.5 924.88,156.6 925.06,158.6 925.25,155.8 925.43,155.3 925.61,161.3 925.80,159.6 925.98,157.7 926.17,159.0 926.35,155.7 926.54,158.4 926.72,159.9 926.91,153.2 927.09,157.8 927.28,155.8 927.46,163.0 927.64,155.2 927.83,160.5 928.01,157.0 928.20,156.5 928.38,152.7 928.57,162.1 928.75,156.7 928.94,154.5 929.12,155.8 929.31,155.4 929.49,159.3 929.68,159.0 929.86,160.9 930.04,157.3 930.23,162.3 930.41,156.5 930.60,159.2 930.78,157.9 930.97,160.0 931.15,157.2 931.34,155.5 931.52,156.8 931.71,155.2 931.89,158.0 932.08,159.5 932.26,157.8 932.44,156.2 932.63,159.7 932.81,157.9 933.00,156.3 933.18,161.6 933.37,153.0 933.55,154.1 933.74,160.6 933.92,140.0 934.11,150.9 934.29,157.8 934.47,158.6 934.66,156.2 934.84,158.2 935.03,160.7 935.21,160.3 935.40,156.2 935.58,158.8 935.77,151.7 935.95,155.6 936.14,159.7 936.32,159.1 936.51,157.1 936.69,159.0 936.87,160.1 937.06,156.6 937.24,157.7 937.43,163.2 937.61,161.9 937.80,154.9 937.98,155.7 938.17,159.5 938.35,164.6 938.54,159.1 938.72,156.4 938.91,163.3 939.09,160.5 939.27,161.9 939.46,155.2 939.64,153.8 939.83,158.2 940.01,157.3 940.20,156.2 940.38,155.6 940.57,158.0 940.75,154.7 940.94,155.4 941.12,155.9 941.31,158.6 941.49,161.4 941.67,158.3 941.86,155.4 942.04,155.6 942.23,154.3 942.41,159.0 942.60,156.0 942.78,156.1 942.97,162.6 943.15,156.8 943.34,158.5 943.52,157.3 943.70,162.4 943.89,159.6 944.07,159.4 944.26,159.1 944.44,154.8 944.63,160.0 944.81,158.1 945.00,158.6 945.18,157.2 945.37,156.3 945.55,158.7 945.74,158.1 945.92,161.9 946.10,158.9 946.29,159.2 946.47,155.8 946.66,159.3 946.84,159.0 947.03,157.6 947.21,158.1 947.40,156.8 947.58,154.5 947.77,156.1 947.95,159.4 948.14,154.6 948.32,156.0 948.50,157.6 948.69,157.5 948.87,156.7 949.06,160.9 949.24,160.3 949.43,158.0 949.61,159.4 949.80,154.2 949.98,161.6 950.17,161.8 950.35,157.4 950.53,160.8 950.72,157.8 950.90,163.8 951.09,158.0 951.27,158.2 951.46,153.1 951.64,156.0 951.83,155.7 952.01,154.4 952.20,158.6 952.38,156.5 952.57,157.8 952.75,158.5 952.93,158.8 953.12,160.0 953.30,157.9 953.49,160.7 953.67,161.9 953.86,156.9 954.04,155.3 954.23,157.8 954.41,151.3 954.60,158.3 954.78,158.4 954.97,159.7 955.15,161.3 955.33,163.6 955.52,160.1 955.70,155.0 955.89,156.9 956.07,158.1 956.26,159.2 956.44,161.4 956.63,156.0 956.81,156.8 957.00,154.1 957.18,160.7 957.37,153.2 957.55,155.3 957.73,154.5 957.92,156.4 958.10,157.1 958.29,155.0 958.47,158.9 958.66,155.9 958.84,159.1 959.03,159.5 959.21,155.5 959.40,160.6 959.58,157.5 959.76,158.5 959.95,156.1 960.13,158.1 960.32,158.3 960.50,154.4 960.69,157.3 960.87,151.9 961.06,161.9 961.24,155.4 961.43,157.9 961.61,154.3 961.80,157.4 961.98,153.8 962.16,155.6 962.35,163.7 962.53,156.5 962.72,158.4 962.90,160.2 963.09,157.9 963.27,165.1 963.46,160.8 963.64,158.6 963.83,161.0 964.01,154.8 964.20,159.2 964.38,158.7 964.56,161.9 964.75,158.3 964.93,151.7 965.12,159.0 965.30,158.0 965.49,156.7 965.67,154.8 965.86,158.7 966.04,158.2 966.23,159.4 966.41,157.7 966.59,157.9 966.78,162.9 966.96,153.0 967.15,152.9 967.33,158.4 967.52,161.1 967.70,156.5 967.89,159.4 968.07,155.1 968.26,162.0 968.44,163.4 968.63,161.5 968.81,150.7 968.99,156.2 969.18,156.8 969.36,158.4 969.55,158.9 969.73,156.4 969.92,156.6 970.10,163.9 970.29,159.1 970.47,159.3 970.66,157.8 970.84,160.7 971.03,155.5 971.21,158.5 971.39,157.1 971.58,152.2 971.76,161.1 971.95,160.8 972.13,157.6 972.32,163.4 972.50,156.1 972.69,160.2 972.87,160.7 973.06,154.3 973.24,155.7 973.42,161.7 973.61,156.4 973.79,157.0 973.98,150.5 974.16,159.5 974.35,151.2 974.53,162.1 974.72,158.9 974.90,158.0 975.09,158.3 975.27,156.6 975.46,155.7 975.64,161.3 975.82,155.3 976.01,160.7 976.19,162.6 976.38,155.5 976.56,159.8 976.75,157.6 976.93,159.6 977.12,152.3 977.30,157.0 977.49,153.9 977.67,160.2 977.86,157.9 978.04,157.2 978.22,156.7 978.41,157.6 978.59,157.8 978.78,157.8 978.96,150.7 979.15,154.6 979.33,157.8 979.52,157.5 979.70,158.6 979.89,155.9 980.07,157.2 980.26,156.7 980.44,158.5 980.62,157.0 980.81,157.4 980.99,156.7 981.18,160.4 981.36,159.1 981.55,156.4 981.73,161.0 981.92,155.2 982.10,160.1 982.29,155.3 982.47,158.2 982.65,160.8 982.84,155.9 983.02,160.3 983.21,151.7 983.39,159.1 983.58,159.0 983.76,156.9 983.95,156.8 984.13,155.2 984.32,160.1 984.50,159.9 984.69,158.3 984.87,154.5 985.05,160.6 985.24,155.5 985.42,156.9 985.61,153.2 985.79,154.8 985.98,154.9 986.16,149.9 986.35,156.1 986.53,152.8 986.72,161.8 986.90,169.0 987.09,152.2 987.27,169.1 987.45,157.1 987.64,152.6 987.82,158.0 988.01,170.8 988.19,162.8 988.38,169.5 988.56,163.4 988.75,160.8 988.93,125.0 989.12,168.3 989.30,169.0 989.48,168.3 989.67,163.0 989.85,143.9 990.04,155.9 990.22,157.5 990.41,202.8 990.59,158.4 990.78,175.3 990.96,176.4 991.15,135.5 991.33,172.3 991.52,137.9 991.70,169.5 991.88,170.9 992.07,173.0 992.25,144.7 992.44,168.5 992.62,162.0 992.81,154.6 992.99,151.2 993.18,179.5 993.36,163.3 993.55,146.5 993.73,161.8 993.92,147.5 994.10,154.7 994.28,169.2 994.47,156.7 994.65,138.1 994.84,152.7 995.02,153.9 995.21,156.2 995.39,156.0 995.58,156.8 995.76,154.4 995.95,152.6 996.13,150.1 996.32,156.4 996.50,148.2 996.68,157.6 996.87,154.7 997.05,148.9 997.24,157.4 997.42,157.0 997.61,153.9 997.79,160.8 997.98,149.2 998.16,160.8 998.35,167.8 998.53,170.8 998.71,166.2 998.90,154.6 999.08,163.0 999.27,162.8 999.45,147.6 999.64,161.4 999.82,158.3 1000.01,152.4 1000.19,161.2 1000.38,165.4 1000.56,154.9 1000.75,154.1 1000.93,179.0 1001.11,155.2 1001.30,154.4 1001.48,163.1 1001.67,155.9 1001.85,156.6 1002.04,158.4 1002.22,168.4 1002.41,163.8 1002.59,157.4 1002.78,155.4 1002.96,157.5 1003.15,150.7 1003.33,151.3 1003.51,154.4 1003.70,147.3 1003.88,160.1 1004.07,162.1 1004.25,157.6 1004.44,158.5 1004.62,147.8 1004.81,157.9 1004.99,163.7 1005.18,158.5 1005.36,154.8 1005.54,158.5 1005.73,149.2 1005.91,159.3 1006.10,156.0 1006.28,152.6 1006.47,157.2 1006.65,157.7 1006.84,161.2 1007.02,159.3 1007.21,157.5 1007.39,155.5 1007.58,159.1 1007.76,160.6 1007.94,152.5 1008.13,158.1 1008.31,156.0 1008.50,153.5 1008.68,159.6 1008.87,155.0 1009.05,154.1 1009.24,160.0 1009.42,158.6 1009.61,159.4 1009.79,155.1 1009.98,157.9 1010.16,157.9 1010.34,153.7 1010.53,161.6 1010.71,162.4 1010.90,150.5 1011.08,157.8 1011.27,153.2 1011.45,158.0 1011.64,157.6 1011.82,167.0 1012.01,161.6 1012.19,155.4 1012.37,158.6 1012.56,156.4 1012.74,155.6 1012.93,159.7 1013.11,150.9 1013.30,158.4 1013.48,160.5 1013.67,150.0 1013.85,155.9 1014.04,149.6 1014.22,158.2 1014.41,153.9 1014.59,156.5 1014.77,160.2 1014.96,163.9 1015.14,161.0 1015.33,151.0 1015.51,150.0 1015.70,156.8 1015.88,161.0 1016.07,157.5 1016.25,153.9 1016.44,159.2 1016.62,154.3 1016.81,155.5 1016.99,155.1 1017.17,161.6 1017.36,157.0 1017.54,154.6 1017.73,158.2 1017.91,155.7 1018.10,154.3 1018.28,158.0 1018.47,157.2 1018.65,149.8 1018.84,162.0 1019.02,156.1 1019.21,161.8 1019.39,153.3 1019.57,161.8 1019.76,156.7 1019.94,157.8 1020.13,153.7 1020.31,160.3 1020.50,152.6 1020.68,155.3 1020.87,155.4 1021.05,162.5 1021.24,153.5 1021.42,158.1 1021.60,159.8 1021.79,157.0 1021.97,150.8 1022.16,156.2 1022.34,158.6 1022.53,154.8 1022.71,154.6 1022.90,158.0 1023.08,154.8 1023.27,160.4 1023.45,158.8 1023.64,162.7 1023.82,162.2 1024.00,155.6 1024.19,158.9 1024.37,154.0 1024.56,155.1 1024.74,159.1 1024.93,157.0 1025.11,161.5 1025.30,155.3 1025.48,154.9 1025.67,158.0 1025.85,156.5 1026.04,158.1 1026.22,160.0 1026.40,158.2 1026.59,153.9 1026.77,165.7 1026.96,158.2 1027.14,155.9 1027.33,152.5 1027.51,151.5 1027.70,161.6 1027.88,161.8 1028.07,162.2 1028.25,159.0 1028.43,155.8 1028.62,152.6 1028.80,148.7 1028.99,160.1 1029.17,157.1 1029.36,158.7 1029.54,156.6 1029.73,155.8 1029.91,154.0 1030.10,156.4 1030.28,155.9 1030.47,153.6 1030.65,166.3 1030.83,156.3 1031.02,159.7 1031.20,158.5 1031.39,148.0 1031.57,163.5 1031.76,159.2 1031.94,154.8 1032.13,166.5 1032.31,155.4 1032.50,150.4 1032.68,151.8 1032.87,163.0 1033.05,150.2 1033.23,160.5 1033.42,160.0 1033.60,164.2 1033.79,160.8 1033.97,161.3 1034.16,155.2 1034.34,150.2 1034.53,153.3 1034.71,156.3 1034.90,156.4 1035.08,156.8 1035.26,158.5 1035.45,159.4 1035.63,156.9 1035.82,156.5 1036.00,163.1 1036.19,157.8 1036.37,152.6 1036.56,155.8 1036.74,155.9 1036.93,152.6 1037.11,161.2 1037.30,159.6 1037.48,155.5 1037.66,156.8 1037.85,156.6 1038.03,156.5 1038.22,154.6 1038.40,160.8 1038.59,159.3 1038.77,159.5 1038.96,157.9 1039.14,155.1 1039.33,154.7 1039.51,155.2 1039.70,159.5 1039.88,163.2 1040.06,155.2 1040.25,149.2 1040.43,158.3 1040.62,157.4 1040.80,153.1 1040.99,154.3 1041.17,148.8 1041.36,155.4 1041.54,162.2 1041.73,155.8 1041.91,160.2 1042.10,156.0 1042.28,150.0 1042.46,159.6 1042.65,157.9 1042.83,149.8 1043.02,157.7 1043.20,162.3 1043.39,156.0 1043.57,154.4 1043.76,157.4 1043.94,157.1 1044.13,156.2 1044.31,155.3 1044.49,149.5 1044.68,156.0 1044.86,154.2 1045.05,160.8 1045.23,156.5 1045.42,156.3 1045.60,157.2 1045.79,165.0 1045.97,162.4 1046.16,164.8 1046.34,152.8 1046.53,157.6 1046.71,160.6 1046.89,162.5 1047.08,161.2 1047.26,157.1 1047.45,150.9 1047.63,160.6 1047.82,158.5 1048.00,160.2 1048.19,147.2 1048.37,161.8 1048.56,155.1 1048.74,150.4 1048.93,152.2 1049.11,158.8 1049.29,156.0 1049.48,159.5 1049.66,155.4 1049.85,155.5 1050.03,158.5 1050.22,156.1 1050.40,157.0 1050.59,157.4 1050.77,154.2 1050.96,165.3 1051.14,158.0 1051.32,157.2 1051.51,153.7 1051.69,167.6 1051.88,156.9 1052.06,158.8 1052.25,151.2 1052.43,156.1 1052.62,158.3 1052.80,158.9 1052.99,154.4 1053.17,156.4 1053.36,153.2 1053.54,156.2 1053.72,157.6 1053.91,155.3 1054.09,148.0 1054.28,156.3 1054.46,157.5 1054.65,155.3 1054.83,163.8 1055.02,161.6 1055.20,154.5 1055.39,160.8 1055.57,158.8 1055.76,147.6 1055.94,160.6 1056.12,152.9 1056.31,157.0 1056.49,160.9 1056.68,162.0 1056.86,161.8 1057.05,157.3 1057.23,165.1 1057.42,164.6 1057.60,155.6 1057.79,157.4 1057.97,149.0 1058.16,156.2 1058.34,154.2 1058.52,158.3 1058.71,151.4 1058.89,161.5 1059.08,155.4 1059.26,157.2 1059.45,149.2 1059.63,150.1 1059.82,155.9 1060.00,159.4 1060.19,158.1 1060.37,150.2 1060.55,156.2 1060.74,156.9 1060.92,157.8 1061.11,154.5 1061.29,160.8 1061.48,159.9 1061.66,163.1 1061.85,157.9 1062.03,152.7 1062.22,159.4 1062.40,156.5 1062.59,167.4 1062.77,156.3 1062.95,164.4 1063.14,161.4 1063.32,160.2 1063.51,150.3 1063.69,160.3 1063.88,158.2 1064.06,154.2 1064.25,149.2 1064.43,154.8 1064.62,163.7 1064.80,154.9 1064.99,153.2 1065.17,156.2 1065.35,155.5 1065.54,159.1 1065.72,158.7 1065.91,163.6 1066.09,157.2 1066.28,151.5 1066.46,156.2 1066.65,156.3 1066.83,154.3 1067.02,154.9 1067.20,155.6 1067.38,156.7 1067.57,158.6 1067.75,152.8 1067.94,160.2 1068.12,156.9 1068.31,164.5 1068.49,163.2 1068.68,159.4 1068.86,155.0 1069.05,157.9 1069.23,167.4 1069.42,157.0 1069.60,156.2 1069.78,153.1 1069.97,156.5 1070.15,155.5 1070.34,164.3 1070.52,159.6 1070.71,165.0 1070.89,153.5 1071.08,164.3 1071.26,159.3 1071.45,151.9 1071.63,156.4 1071.82,159.8 1072.00,153.1 1072.18,153.8 1072.37,151.3 1072.55,161.0 1072.74,157.7 1072.92,157.0 1073.11,148.1 1073.29,155.4 1073.48,158.6 1073.66,154.6 1073.85,166.4 1074.03,155.7 1074.21,158.4 1074.40,159.0 1074.58,157.0 1074.77,163.8 1074.95,160.8 1075.14,156.4 1075.32,157.6 1075.51,158.5 1075.69,163.9 1075.88,149.6 1076.06,157.8 1076.25,150.4 1076.43,163.5 1076.61,158.0 1076.80,165.3 1076.98,152.4 1077.17,152.2 1077.35,158.6 1077.54,149.8 1077.72,154.6 1077.91,156.3 1078.09,155.5 1078.28,158.7 1078.46,159.2 1078.65,153.1 1078.83,155.4 1079.01,159.4 1079.20,159.6 1079.38,156.5 1079.57,159.7 1079.75,152.9 1079.94,156.7 1080.12,160.4 1080.31,160.9 1080.49,158.5 1080.68,157.2 1080.86,152.0 1081.05,155.3 1081.23,157.6 1081.41,155.6 1081.60,159.4 1081.78,151.8 1081.97,159.6 1082.15,155.7 1082.34,158.3 1082.52,161.1 1082.71,158.1 1082.89,153.7 1083.08,155.1 1083.26,154.5 1083.44,155.2 1083.63,157.3 1083.81,165.1 1084.00,155.1 1084.18,158.1 1084.37,151.5 1084.55,158.1 1084.74,156.5 1084.92,155.0 1085.11,159.2 1085.29,164.0 1085.48,157.4 1085.66,157.0 1085.84,154.5 1086.03,156.1 1086.21,153.3 1086.40,156.2 1086.58,154.8 1086.77,157.9 1086.95,154.7 1087.14,158.2 1087.32,152.5 1087.51,165.1 1087.69,158.7 1087.88,155.8 1088.06,153.4 1088.24,158.7 1088.43,154.3 1088.61,154.8 1088.80,155.2 1088.98,159.6 1089.17,163.3 1089.35,154.5 1089.54,159.6 1089.72,163.9 1089.91,153.8 1090.09,158.4 1090.27,161.9 1090.46,155.8 1090.64,160.7 1090.83,157.5 1091.01,158.5 1091.20,163.8 1091.38,156.8 1091.57,156.6 1091.75,155.7 1091.94,158.3 1092.12,153.9 1092.31,157.2 1092.49,161.5 1092.67,157.9 1092.86,155.0 1093.04,158.0 1093.23,160.8 1093.41,157.3 1093.60,155.6 1093.78,153.3 1093.97,159.9 1094.15,157.9 1094.34,154.0 1094.52,162.1 1094.71,150.5 1094.89,148.0 1095.07,154.5 1095.26,155.9 1095.44,156.2 1095.63,149.3 1095.81,154.4 1096.00,161.7 1096.18,154.2 1096.37,159.1 1096.55,156.7 1096.74,154.7 1096.92,161.0 1097.11,154.9 1097.29,160.3 1097.47,154.9 1097.66,156.0 1097.84,163.4 1098.03,156.1 1098.21,156.2 1098.40,162.3 1098.58,156.0 1098.77,159.0 1098.95,165.0 1099.14,155.0 1099.32,154.6 1099.50,158.6 1099.69,161.9 1099.87,148.0 1100.06,162.5 1100.24,162.6 1100.43,155.4 1100.61,157.2 1100.80,153.8 1100.98,154.2 1101.17,152.9 1101.35,163.3 1101.54,155.5 1101.72,159.4 1101.90,154.3 1102.09,157.4 1102.27,158.7 1102.46,156.6 1102.64,158.1 1102.83,158.0 1103.01,156.0 1103.20,154.5 1103.38,157.8 1103.57,156.1 1103.75,157.5 1103.94,159.5 1104.12,160.8 1104.30,157.3 1104.49,164.9 1104.67,159.5 1104.86,159.5 1105.04,156.3 1105.23,156.6 1105.41,154.0 1105.60,153.5 1105.78,156.7 1105.97,157.2 1106.15,156.1 1106.33,149.4 1106.52,157.7 1106.70,159.1 1106.89,156.2 1107.07,159.9 1107.26,159.7 1107.44,155.9 1107.63,154.9 1107.81,159.4 1108.00,156.4 1108.18,158.5 1108.37,157.0 1108.55,161.1 1108.73,155.3 1108.92,161.1 1109.10,153.5 1109.29,156.3 1109.47,155.1 1109.66,162.3 1109.84,154.7 1110.03,164.8 1110.21,160.6 1110.40,157.4 1110.58,155.3 1110.77,158.1 1110.95,153.2 1111.13,160.0 1111.32,163.9 1111.50,151.0 1111.69,157.1 1111.87,158.9 1112.06,159.6 1112.24,156.8 1112.43,166.1 1112.61,158.4 1112.80,159.2 1112.98,154.0 1113.16,156.8 1113.35,156.6 1113.53,155.2 1113.72,159.9 1113.90,157.6 1114.09,156.0 1114.27,155.3 1114.46,160.4 1114.64,156.2 1114.83,159.1 1115.01,158.3 1115.20,160.2 1115.38,157.5 1115.56,166.3 1115.75,162.8 1115.93,155.8 1116.12,156.8 1116.30,159.7 1116.49,160.0 1116.67,161.8 1116.86,152.2 1117.04,154.9 1117.23,154.4 1117.41,160.3 1117.60,162.0 1117.78,161.3 1117.96,161.9 1118.15,161.2 1118.33,150.4 1118.52,156.3 1118.70,161.4 1118.89,157.7 1119.07,155.9 1119.26,158.5 1119.44,159.1 1119.63,159.3 1119.81,159.3 1120.00,160.6 1120.18,155.5 1120.36,161.1 1120.55,158.7 1120.73,152.3 1120.92,163.0 1121.10,161.9 1121.29,158.1 1121.47,158.9 1121.66,155.5 1121.84,157.5 1122.03,161.7 1122.21,154.7 1122.39,154.0 1122.58,159.1 1122.76,158.0 1122.95,157.1 1123.13,152.5 1123.32,163.4 1123.50,163.5 1123.69,162.1 1123.87,161.3 1124.06,154.0 1124.24,153.1 1124.43,163.7 1124.61,155.5 1124.79,152.2 1124.98,159.4 1125.16,161.7 1125.35,158.0 1125.53,157.2 1125.72,159.1 1125.90,157.2 1126.09,159.8 1126.27,149.5 1126.46,157.7 1126.64,159.5 1126.83,156.3 1127.01,157.3 1127.19,160.8 1127.38,158.1 1127.56,154.4 1127.75,156.9 1127.93,158.2 1128.12,158.9 1128.30,153.0 1128.49,158.4 1128.67,160.0 1128.86,154.3 1129.04,155.0 1129.22,156.8 1129.41,152.7 1129.59,153.1 1129.78,161.8 1129.96,156.0 1130.15,160.5 1130.33,156.1 1130.52,158.6 1130.70,157.0 1130.89,162.3 1131.07,162.6 1131.26,157.9 1131.44,154.9 1131.62,155.2 1131.81,156.9 1131.99,159.4 1132.18,154.6 1132.36,160.6 1132.55,160.2 1132.73,155.7 1132.92,157.4 1133.10,162.7 1133.29,158.2 1133.47,157.8 1133.66,159.2 1133.84,160.2 1134.02,155.4 1134.21,158.4 1134.39,152.8 1134.58,162.0 1134.76,161.3 1134.95,159.8 1135.13,156.3 1135.32,158.8 1135.50,156.0 1135.69,164.2 1135.87,157.2 1136.05,158.0 1136.24,161.3 1136.42,154.8 1136.61,162.7 1136.79,153.5 1136.98,158.0 1137.16,158.0 1137.35,163.1 1137.53,158.8 1137.72,161.9 1137.90,158.1 1138.09,156.4 1138.27,159.3 1138.45,157.6 1138.64,161.0 1138.82,159.8 1139.01,162.5 1139.19,157.7 1139.38,154.7 1139.56,159.2 1139.75,153.8 1139.93,158.0 1140.12,158.1 1140.30,157.5 1140.49,159.1 1140.67,164.1 1140.85,158.8 1141.04,158.6 1141.22,157.0 1141.41,160.1 1141.59,155.0 1141.78,155.6 1141.96,153.4 1142.15,158.0 1142.33,156.1 1142.52,161.6 1142.70,154.4 1142.89,158.0 1143.07,158.5 1143.25,154.8 1143.44,161.8 1143.62,156.8 1143.81,160.2 1143.99,158.2 1144.18,157.7 1144.36,165.6 1144.55,155.1 1144.73,159.4 1144.92,160.3 1145.10,157.6 1145.28,160.0 1145.47,161.8 1145.65,158.2 1145.84,157.8 1146.02,152.0 1146.21,161.6 1146.39,155.2 1146.58,158.0 1146.76,154.5 1146.95,158.4 1147.13,157.1 1147.32,158.5 1147.50,158.3"/>
<polygon fill="#FFFF00" shape-rendering="crispEdges" points="987,150 988,140 990,136 992,139 994,145 997,149 1001,152 1003,154 1003,161 1001,164 997,167 994,170 992,176 990,178 988,172 987,165"/>
<rect x="1002.5" y="65.5" width="164" height="48" fill="#fff" stroke="#000" stroke-width="1"/>
<line x1="1014" y1="81" x2="1039" y2="81" stroke="#0000FF" stroke-width="2"/>
<line x1="1014" y1="97.5" x2="1039" y2="97.5" stroke="#FFFF00" stroke-width="1"/>
<text x="1050" y="87" font-size="13" text-anchor="start" font-weight="normal" fill="#000" transform="matrix(1 0 0 1.08 0 -6.960)">AENZ stock return</text>
<text x="1050" y="103" font-size="13" text-anchor="start" font-weight="normal" fill="#000" transform="matrix(1 0 0 1.08 0 -8.240)">GSPC stock return</text>
<rect x="65.5" y="465.5" width="501.0" height="253.0" fill="none" stroke="#000" stroke-width="1"/>
<text x="315.5" y="440" font-size="16" text-anchor="middle" font-weight="bold" fill="#000">AENZ versus S&amp;P500 stock return distribution</text>
<line x1="103.5" y1="718.5" x2="524.502" y2="718.5" stroke="#000" stroke-width="1"/>
<line x1="103.5" y1="718.5" x2="103.5" y2="727" stroke="#000" stroke-width="1"/>
<text x="103.5" y="748" font-size="13" text-anchor="middle" font-weight="normal" fill="#000" transform="matrix(1 0 0 1.08 0 -59.840)">-0.4</text>
<line x1="173.5" y1="718.5" x2="173.5" y2="727" stroke="#000" stroke-width="1"/>
<text x="173.66700000000003" y="748" font-size="13" text-anchor="middle" font-weight="normal" fill="#000" transform="matrix(1 0 0 1.08 0 -59.840)">-0.3</text>
<line x1="243.5" y1="718.5" x2="243.5" y2="727" stroke="#000" stroke-width="1"/>
<text x="243.834" y="748" font-size="13" text-anchor="middle" font-weight="normal" fill="#000" transform="matrix(1 0 0 1.08 0 -59.840)">-0.2</text>
<line x1="314.5" y1="718.5" x2="314.5" y2="727" stroke="#000" stroke-width="1"/>
<text x="314.001" y="748" font-size="13" text-anchor="middle" font-weight="normal" fill="#000" transform="matrix(1 0 0 1.08 0 -59.840)">-0.1</text>
<line x1="384.5" y1="718.5" x2="384.5" y2="727" stroke="#000" stroke-width="1"/>
<text x="384.168" y="748" font-size="13" text-anchor="middle" font-weight="normal" fill="#000" transform="matrix(1 0 0 1.08 0 -59.840)">0.0</text>
<line x1="454.5" y1="718.5" x2="454.5" y2="727" stroke="#000" stroke-width="1"/>
<text x="454.335" y="748" font-size="13" text-anchor="middle" font-weight="normal" fill="#000" transform="matrix(1 0 0 1.08 0 -59.840)">0.1</text>
<line x1="524.5" y1="718.5" x2="524.5" y2="727" stroke="#000" stroke-width="1"/>
<text x="524.502" y="748" font-size="13" text-anchor="middle" font-weight="normal" fill="#000" transform="matrix(1 0 0 1.08 0 -59.840)">0.2</text>
<line x1="65.5" y1="709.5" x2="65.5" y2="494.5" stroke="#000" stroke-width="1"/>
<line x1="57" y1="709.5" x2="65.5" y2="709.5" stroke="#000" stroke-width="1"/>
<text x="47" y="709.5" font-size="13" text-anchor="middle" font-weight="normal" fill="#000" transform="rotate(-90 47 709.5) matrix(1 0 0 1.08 0 -56.760)">0</text>
<line x1="57" y1="674.5" x2="65.5" y2="674.5" stroke="#000" stroke-width="1"/>
<text x="47" y="673.6666666666667" font-size="13" text-anchor="middle" font-weight="normal" fill="#000" transform="rotate(-90 47 673.6666666666667) matrix(1 0 0 1.08 0 -53.893)">10</text>
<line x1="57" y1="638.5" x2="65.5" y2="638.5" stroke="#000" stroke-width="1"/>
<text x="47" y="637.8333333333333" font-size="13" text-anchor="middle" font-weight="normal" fill="#000" transform="rotate(-90 47 637.8333333333333) matrix(1 0 0 1.08 0 -51.027)">20</text>
<line x1="57" y1="602.5" x2="65.5" y2="602.5" stroke="#000" stroke-width="1"/>
<text x="47" y="602.0" font-size="13" text-anchor="middle" font-weight="normal" fill="#000" transform="rotate(-90 47 602.0) matrix(1 0 0 1.08 0 -48.160)">30</text>
<line x1="57" y1="566.5" x2="65.5" y2="566.5" stroke="#000" stroke-width="1"/>
<text x="47" y="566.1666666666666" font-size="13" text-anchor="middle" font-weight="normal" fill="#000" transform="rotate(-90 47 566.1666666666666) matrix(1 0 0 1.08 0 -45.293)">40</text>
<line x1="57" y1="530.5" x2="65.5" y2="530.5" stroke="#000" stroke-width="1"/>
<text x="47" y="530.3333333333333" font-size="13" text-anchor="middle" font-weight="normal" fill="#000" transform="rotate(-90 47 530.3333333333333) matrix(1 0 0 1.08 0 -42.427)">50</text>
<line x1="57" y1="494.5" x2="65.5" y2="494.5" stroke="#000" stroke-width="1"/>
<text x="47" y="494.5" font-size="13" text-anchor="middle" font-weight="normal" fill="#000" transform="rotate(-90 47 494.5) matrix(1 0 0 1.08 0 -39.560)">60</text>
<line x1="65.5" y1="709.5" x2="566.5" y2="709.5" stroke="#BEBEBE" stroke-width="1"/>
<polyline fill="none" stroke="#228B22" stroke-width="2" stroke-linejoin="round" shape-rendering="crispEdges" points="75.8,708.3 283.0,708.3 284.0,707.6 299.0,707.6 303.0,707.6 318.0,707.6 320.0,706.9 330.0,706.9 340.0,703.7 347.1,700.2 354.8,697.2 357.2,693.0 362.6,685.9 369.1,676.4 373.2,668.7 375.6,659.2 378.0,649.7 381.0,641.4 383.4,639.0 385.7,642.0 388.1,648.5 390.5,661.0 394.0,668.7 397.0,675.8 400.6,684.7 406.5,692.4 410.0,697.2 416.0,698.4 423.1,701.4 430.0,703.1 438.0,706.5 450.0,707.6 480.0,707.8 487.0,708.3 491.0,707.6 495.0,708.3 557.3,708.3"/>
<polyline fill="none" stroke="#FFA500" stroke-width="1" stroke-linejoin="round" shape-rendering="crispEdges" points="345.0,708.6 351.9,708.5 357.8,707.3 363.8,704.3 367.3,702.0 370.9,693.6 374.4,679.4 376.2,667.5 377.4,649.7 378.2,631.3 379.4,620.0 380.3,595.0 381.2,548.0 382.5,507.5 383.4,488.8 384.4,480.3 385.3,488.8 386.2,501.2 387.5,548.0 388.8,595.0 390.3,620.0 391.1,634.2 392.9,649.7 394.6,673.4 397.0,691.2 399.4,699.6 401.8,702.0 404.7,707.3 407.7,708.5 412.0,708.6"/>
<rect x="65.5" y="465.5" width="195" height="48" fill="#fff" stroke="#000" stroke-width="1"/>
<line x1="77" y1="481" x2="102" y2="481" stroke="#228B22" stroke-width="2"/>
<line x1="77" y1="497.5" x2="102" y2="497.5" stroke="#FFA500" stroke-width="1"/>
<text x="113" y="487" font-size="13" text-anchor="start" font-weight="normal" fill="#000" transform="matrix(1 0 0 1.08 0 -38.960)">AENZ return distribution</text>
<text x="113" y="503" font-size="13" text-anchor="start" font-weight="normal" fill="#000" transform="matrix(1 0 0 1.08 0 -40.240)">GSPC return distribution</text>
<g shape-rendering="crispEdges"><path d="M684.5 716.5H689.5" stroke="#000" fill="none"/><path d="M689.5 716.5H694.5" stroke="#000" fill="none"/><path d="M699.5 716.5H704.5" stroke="#000" fill="none"/><path d="M704.5 716.5H710.5" stroke="#000" fill="none"/><path d="M715.5 716.5H720.5" stroke="#000" fill="none"/><path d="M720.5 716.5H725.5" stroke="#000" fill="none"/><path d="M730.5 716.5H736.5" stroke="#000" fill="none"/><path d="M736.5 716.5H741.5" stroke="#000" fill="none"/><path d="M746.5 716.5H751.5" stroke="#000" fill="none"/><path d="M751.5 716.5H757.5" stroke="#000" fill="none"/><path d="M762.5 716.5H767.5" stroke="#000" fill="none"/><path d="M767.5 716.5H772.5" stroke="#000" fill="none"/><path d="M777.5 716.5H783.5" stroke="#000" fill="none"/><path d="M783.5 716.5H788.5" stroke="#000" fill="none"/><path d="M793.5 716.5H798.5" stroke="#000" fill="none"/><path d="M798.5 716.5H803.5" stroke="#000" fill="none"/><path d="M809.5 716.5H814.5" stroke="#000" fill="none"/><path d="M814.5 716.5H819.5" stroke="#000" fill="none"/><path d="M824.5 716.5H829.5" stroke="#000" fill="none"/><path d="M829.5 716.5H835.5" stroke="#000" fill="none"/><path d="M840.5 716.5H845.5" stroke="#000" fill="none"/><path d="M845.5 716.5H850.5" stroke="#000" fill="none"/><path d="M856.5 716.5H861.5" stroke="#000" fill="none"/><path d="M861.5 716.5H866.5" stroke="#000" fill="none"/><path d="M871.5 716.5H876.5" stroke="#000" fill="none"/><path d="M876.5 716.5H882.5" stroke="#000" fill="none"/><path d="M887.5 716.5H892.5" stroke="#000" fill="none"/><path d="M892.5 716.5H897.5" stroke="#000" fill="none"/><path d="M902.5 714.5H908.5V716.5H902.5Z" fill="#0000FF" stroke="#000"/><path d="M908.5 716.5H913.5" stroke="#000" fill="none"/><path d="M918.5 713.5H923.5V716.5H918.5Z" fill="#0000FF" stroke="#000"/><path d="M923.5 716.5H929.5" stroke="#000" fill="none"/><path d="M934.5 706.5H939.5V716.5H934.5Z" fill="#0000FF" stroke="#000"/><path d="M939.5 716.5H944.5" stroke="#000" fill="none"/><path d="M949.5 690.5H955.5V716.5H949.5Z" fill="#0000FF" stroke="#000"/><path d="M955.5 712.5H960.5V716.5H955.5Z" fill="#FFFF00" stroke="#000"/><path d="M965.5 648.5H970.5V716.5H965.5Z" fill="#0000FF" stroke="#000"/><path d="M970.5 683.5H975.5V716.5H970.5Z" fill="#FFFF00" stroke="#000"/><path d="M981.5 596.5H986.5V716.5H981.5Z" fill="#0000FF" stroke="#000"/><path d="M986.5 465.5H991.5V716.5H986.5Z" fill="#FFFF00" stroke="#000"/><path d="M996.5 665.5H1001.5V716.5H996.5Z" fill="#0000FF" stroke="#000"/><path d="M1001.5 691.5H1007.5V716.5H1001.5Z" fill="#FFFF00" stroke="#000"/><path d="M1012.5 698.5H1017.5V716.5H1012.5Z" fill="#0000FF" stroke="#000"/><path d="M1017.5 715.5H1022.5V716.5H1017.5Z" fill="#FFFF00" stroke="#000"/><path d="M1028.5 707.5H1033.5V716.5H1028.5Z" fill="#0000FF" stroke="#000"/><path d="M1033.5 715.5H1038.5V716.5H1033.5Z" fill="#FFFF00" stroke="#000"/><path d="M1043.5 713.5H1048.5V716.5H1043.5Z" fill="#0000FF" stroke="#000"/><path d="M1048.5 715.5H1054.5V716.5H1048.5Z" fill="#FFFF00" stroke="#000"/><path d="M1059.5 714.5H1064.5V716.5H1059.5Z" fill="#0000FF" stroke="#000"/><path d="M1064.5 716.5H1069.5" stroke="#000" fill="none"/><path d="M1074.5 715.5H1080.5V716.5H1074.5Z" fill="#0000FF" stroke="#000"/><path d="M1080.5 716.5H1085.5" stroke="#000" fill="none"/><path d="M1090.5 715.5H1095.5V716.5H1090.5Z" fill="#0000FF" stroke="#000"/><path d="M1095.5 716.5H1101.5" stroke="#000" fill="none"/><path d="M1106.5 715.5H1111.5V716.5H1106.5Z" fill="#0000FF" stroke="#000"/><path d="M1111.5 716.5H1116.5" stroke="#000" fill="none"/><path d="M1121.5 716.5H1127.5" stroke="#000" fill="none"/><path d="M1127.5 716.5H1132.5" stroke="#000" fill="none"/><path d="M1137.5 716.5H1142.5" stroke="#000" fill="none"/><path d="M1142.5 716.5H1147.5" stroke="#000" fill="none"/></g>
<rect x="665.5" y="465.5" width="501.0" height="253.0" fill="none" stroke="#000" stroke-width="1"/>
<text x="915.5" y="440" font-size="16" text-anchor="middle" font-weight="bold" fill="#000">AENZ versus S&amp;P500 return frequency distribution</text>
<line x1="665.5" y1="716.5" x2="665.5" y2="468.5" stroke="#000" stroke-width="1"/>
<line x1="657" y1="716.5" x2="665.5" y2="716.5" stroke="#000" stroke-width="1"/>
<text x="647" y="716.5" font-size="13" text-anchor="middle" font-weight="normal" fill="#000" transform="rotate(-90 647 716.5) matrix(1 0 0 1.08 0 -57.320)">0</text>
<line x1="657" y1="654.5" x2="665.5" y2="654.5" stroke="#000" stroke-width="1"/>
<text x="647" y="654.5" font-size="13" text-anchor="middle" font-weight="normal" fill="#000" transform="rotate(-90 647 654.5) matrix(1 0 0 1.08 0 -52.360)">500</text>
<line x1="657" y1="592.5" x2="665.5" y2="592.5" stroke="#000" stroke-width="1"/>
<text x="647" y="592.5" font-size="13" text-anchor="middle" font-weight="normal" fill="#000" transform="rotate(-90 647 592.5) matrix(1 0 0 1.08 0 -47.400)">1000</text>
<line x1="657" y1="530.5" x2="665.5" y2="530.5" stroke="#000" stroke-width="1"/>
<text x="647" y="530.5" font-size="13" text-anchor="middle" font-weight="normal" fill="#000" transform="rotate(-90 647 530.5) matrix(1 0 0 1.08 0 -42.440)">1500</text>
<line x1="657" y1="468.5" x2="665.5" y2="468.5" stroke="#000" stroke-width="1"/>
<text x="647" y="468.5" font-size="13" text-anchor="middle" font-weight="normal" fill="#000" transform="rotate(-90 647 468.5) matrix(1 0 0 1.08 0 -37.480)">2000</text>
<text x="689.27" y="748" font-size="13" text-anchor="middle" font-weight="normal" fill="#000" transform="matrix(1 0 0 1.08 0 -59.840)">[-0.427,-0.405)</text>
<text x="798.722" y="748" font-size="13" text-anchor="middle" font-weight="normal" fill="#000" transform="matrix(1 0 0 1.08 0 -59.840)">[-0.273,-0.251)</text>
<text x="908.174" y="748" font-size="13" text-anchor="middle" font-weight="normal" fill="#000" transform="matrix(1 0 0 1.08 0 -59.840)">[-0.119,-0.0973)</text>
<text x="1017.626" y="748" font-size="13" text-anchor="middle" font-weight="normal" fill="#000" transform="matrix(1 0 0 1.08 0 -59.840)">[0.0347,0.0567)</text>
<text x="1127.078" y="748" font-size="13" text-anchor="middle" font-weight="normal" fill="#000" transform="matrix(1 0 0 1.08 0 -59.840)">[0.189,0.211)</text>
<text x="915.5" y="780" font-size="13" text-anchor="middle" font-weight="normal" fill="#000" transform="matrix(1 0 0 1.08 0 -62.400)">return</text>
<text x="615" y="592.7" font-size="13" text-anchor="middle" font-weight="normal" fill="#000" transform="rotate(-90 615 592.7) matrix(1 0 0 1.08 0 -47.416)">frequency</text>
<rect x="993.5" y="465.5" width="173" height="48" fill="#fff" stroke="#000" stroke-width="1"/>
<rect x="1005.5" y="477.5" width="9" height="8" fill="#0000FF" stroke="#000" stroke-width="1"/>
<rect x="1005.5" y="493.5" width="9" height="8" fill="#FFFF00" stroke="#000" stroke-width="1"/>
<text x="1026" y="487" font-size="13" text-anchor="start" font-weight="normal" fill="#000" transform="matrix(1 0 0 1.08 0 -38.960)">AENZ return frequency</text>
<text x="1026" y="503" font-size="13" text-anchor="start" font-weight="normal" fill="#000" transform="matrix(1 0 0 1.08 0 -40.240)">GSPC return frequency</text>
</svg></body></html>
